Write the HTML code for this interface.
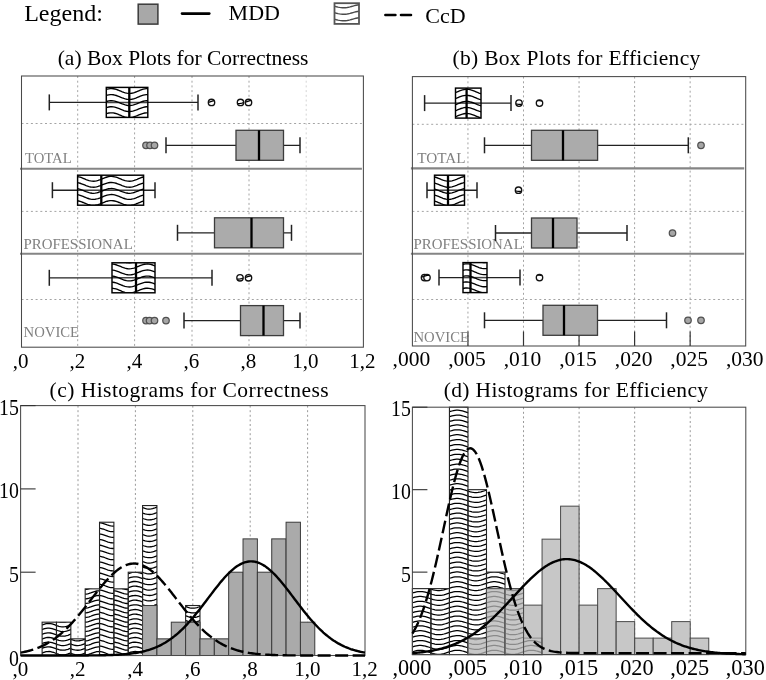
<!DOCTYPE html>
<html><head><meta charset="utf-8"><title>Figure</title>
<style>
html,body{margin:0;padding:0;background:#fff;}
body{width:766px;height:680px;overflow:hidden;}
svg{display:block;font-family:"Liberation Serif",serif;will-change:transform;}
</style></head><body>
<svg width="766" height="680" viewBox="0 0 766 680">
<rect width="766" height="680" fill="#fff"/>
<defs><clipPath id="c1"><rect x="334.5" y="3.2" width="24.5" height="20.7"/></clipPath><clipPath id="c2"><rect x="106.3" y="87.4" width="41.5" height="30"/></clipPath><clipPath id="c3"><circle cx="211.5" cy="102.4" r="3.2"/></clipPath><clipPath id="c4"><circle cx="240.5" cy="102.4" r="3.2"/></clipPath><clipPath id="c5"><circle cx="248.5" cy="102.4" r="3.2"/></clipPath><clipPath id="c6"><rect x="77.6" y="175.2" width="66" height="30"/></clipPath><clipPath id="c7"><rect x="112" y="262.8" width="43" height="30"/></clipPath><clipPath id="c8"><circle cx="240" cy="277.8" r="3.2"/></clipPath><clipPath id="c9"><circle cx="248.5" cy="277.8" r="3.2"/></clipPath><clipPath id="c10"><rect x="455.5" y="88.1" width="25.5" height="30"/></clipPath><clipPath id="c11"><circle cx="519" cy="103.1" r="3.2"/></clipPath><clipPath id="c12"><circle cx="539.5" cy="103.1" r="3.2"/></clipPath><clipPath id="c13"><rect x="434.5" y="175.2" width="30" height="30"/></clipPath><clipPath id="c14"><circle cx="518.5" cy="190.2" r="3.2"/></clipPath><clipPath id="c15"><rect x="463" y="262.6" width="24" height="30"/></clipPath><clipPath id="c16"><circle cx="424.5" cy="277.6" r="3.2"/></clipPath><clipPath id="c17"><circle cx="427" cy="277.6" r="3.2"/></clipPath><clipPath id="c18"><circle cx="539.5" cy="277.6" r="3.2"/></clipPath><clipPath id="c19"><rect x="42.12" y="622.18" width="14.35" height="33.32"/></clipPath><clipPath id="c20"><rect x="56.48" y="622.18" width="14.35" height="33.32"/></clipPath><clipPath id="c21"><rect x="70.82" y="638.84" width="14.35" height="16.66"/></clipPath><clipPath id="c22"><rect x="85.18" y="588.86" width="14.35" height="66.64"/></clipPath><clipPath id="c23"><rect x="99.53" y="522.22" width="14.35" height="133.28"/></clipPath><clipPath id="c24"><rect x="113.88" y="588.86" width="14.35" height="66.64"/></clipPath><clipPath id="c25"><rect x="128.22" y="572.2" width="14.35" height="83.3"/></clipPath><clipPath id="c26"><rect x="142.57" y="505.56" width="14.35" height="149.94"/></clipPath><clipPath id="c27"><rect x="185.62" y="605.52" width="14.35" height="49.98"/></clipPath><clipPath id="c28"><rect x="412.4" y="588.63" width="18.52" height="65.97"/></clipPath><clipPath id="c29"><rect x="430.92" y="588.63" width="18.52" height="65.97"/></clipPath><clipPath id="c30"><rect x="449.44" y="407.2" width="18.52" height="247.4"/></clipPath><clipPath id="c31"><rect x="467.97" y="489.67" width="18.52" height="164.93"/></clipPath><clipPath id="c32"><rect x="486.49" y="572.13" width="18.52" height="82.47"/></clipPath><clipPath id="c33"><rect x="505.01" y="588.63" width="18.52" height="65.97"/></clipPath><clipPath id="c34"><rect x="523.53" y="638.11" width="18.52" height="16.49"/></clipPath></defs>
<text x="24.2" y="21.3" font-size="24" text-anchor="start" fill="#000">Legend:</text>
<rect x="138.2" y="4.2" width="19.7" height="19.9" fill="#a8a8a8" stroke="#3a3a3a" stroke-width="1.5"/>
<line x1="182" y1="13.6" x2="209.3" y2="13.6" stroke="#000" stroke-width="2.6" stroke-linecap="round"/>
<text x="228.6" y="19.8" font-size="22" text-anchor="start" fill="#000">MDD</text>
<rect x="334.5" y="3.2" width="24.5" height="20.7" fill="#fff"/>
<g clip-path="url(#c1)"><path d="M332 -0.98L333.5 -0.58L335 -0.16L336.5 0.25L338 0.62L339.5 0.93L341 1.15L342.5 1.28L344 1.29L345.5 1.2L347 1.01L348.5 0.73L350 0.38L351.5 -0.02L353 -0.44L354.5 -0.85L356 -1.22L357.5 -1.53L359 -1.75L360.5 -1.88L362 -1.89L363.5 -1.8M332 5.52L333.5 5.92L335 6.34L336.5 6.75L338 7.12L339.5 7.43L341 7.65L342.5 7.78L344 7.79L345.5 7.7L347 7.51L348.5 7.23L350 6.88L351.5 6.48L353 6.06L354.5 5.65L356 5.28L357.5 4.97L359 4.75L360.5 4.62L362 4.61L363.5 4.7M332 12.02L333.5 12.42L335 12.84L336.5 13.25L338 13.62L339.5 13.93L341 14.15L342.5 14.28L344 14.29L345.5 14.2L347 14.01L348.5 13.73L350 13.38L351.5 12.98L353 12.56L354.5 12.15L356 11.78L357.5 11.47L359 11.25L360.5 11.12L362 11.11L363.5 11.2M332 18.52L333.5 18.92L335 19.34L336.5 19.75L338 20.12L339.5 20.43L341 20.65L342.5 20.78L344 20.79L345.5 20.7L347 20.51L348.5 20.23L350 19.88L351.5 19.48L353 19.06L354.5 18.65L356 18.28L357.5 17.97L359 17.75L360.5 17.62L362 17.61L363.5 17.7M332 25.02L333.5 25.42L335 25.84L336.5 26.25L338 26.62L339.5 26.93L341 27.15L342.5 27.28L344 27.29L345.5 27.2L347 27.01L348.5 26.73L350 26.38L351.5 25.98L353 25.56L354.5 25.15L356 24.78L357.5 24.47L359 24.25L360.5 24.12L362 24.11L363.5 24.2M332 31.52L333.5 31.92L335 32.34L336.5 32.75L338 33.12L339.5 33.43L341 33.65L342.5 33.78L344 33.79L345.5 33.7L347 33.51L348.5 33.23L350 32.88L351.5 32.48L353 32.06L354.5 31.65L356 31.28L357.5 30.97L359 30.75L360.5 30.62L362 30.61L363.5 30.7" fill="none" stroke="#4a4a4a" stroke-width="1.4"/></g>
<rect x="334.5" y="3.2" width="24.5" height="20.7" fill="none" stroke="#555" stroke-width="1.8"/>
<line x1="385.4" y1="15" x2="411" y2="15" stroke="#000" stroke-width="2.6" stroke-dasharray="10 5.6" stroke-linecap="round"/>
<text x="425.3" y="23.3" font-size="22" text-anchor="start" fill="#000">CcD</text>
<text x="57.7" y="65.3" font-size="21.5" text-anchor="start" fill="#000">(a) Box Plots for Correctness</text>
<line x1="77.7" y1="76" x2="77.7" y2="347.2" stroke="#a4a4a4" stroke-width="1" stroke-dasharray="2 2.7"/>
<line x1="134.6" y1="76" x2="134.6" y2="347.2" stroke="#a4a4a4" stroke-width="1" stroke-dasharray="2 2.7"/>
<line x1="192" y1="76" x2="192" y2="347.2" stroke="#a4a4a4" stroke-width="1" stroke-dasharray="2 2.7"/>
<line x1="249" y1="76" x2="249" y2="347.2" stroke="#a4a4a4" stroke-width="1" stroke-dasharray="2 2.7"/>
<line x1="306.2" y1="76" x2="306.2" y2="347.2" stroke="#d4d4d4" stroke-width="1" stroke-dasharray="2 2.7"/>
<line x1="21.5" y1="123.5" x2="363.4" y2="123.5" stroke="#a4a4a4" stroke-width="1" stroke-dasharray="2 2.7"/>
<line x1="21.5" y1="211.4" x2="363.4" y2="211.4" stroke="#a4a4a4" stroke-width="1" stroke-dasharray="2 2.7"/>
<line x1="21.5" y1="299.5" x2="363.4" y2="299.5" stroke="#a4a4a4" stroke-width="1" stroke-dasharray="2 2.7"/>
<text x="25" y="162.7" font-size="14.7" text-anchor="start" fill="#808080">TOTAL</text>
<text x="23.5" y="249" font-size="14.9" text-anchor="start" fill="#808080">PROFESSIONAL</text>
<text x="23.6" y="336.5" font-size="14.7" text-anchor="start" fill="#808080">NOVICE</text>
<line x1="20" y1="168.8" x2="361.9" y2="168.8" stroke="#858585" stroke-width="2.1"/>
<line x1="20" y1="253.7" x2="361.9" y2="253.7" stroke="#858585" stroke-width="2.1"/>
<rect x="21.5" y="76" width="341.9" height="271.2" fill="none" stroke="#4a4a4a" stroke-width="1.05"/>
<line x1="49.3" y1="102.4" x2="198" y2="102.4" stroke="#222" stroke-width="1.35"/>
<line x1="49.3" y1="94.4" x2="49.3" y2="110.4" stroke="#222" stroke-width="1.5"/>
<line x1="198" y1="94.4" x2="198" y2="110.4" stroke="#222" stroke-width="1.5"/>
<rect x="106.3" y="87.4" width="41.5" height="30" fill="#fff"/>
<line x1="106.3" y1="102.4" x2="147.8" y2="102.4" stroke="#444" stroke-width="1.5"/>
<g clip-path="url(#c2)"><path d="M104.3 78.08L105.8 77.52L107.3 77.06L108.8 76.72L110.3 76.54L111.8 76.51L113.3 76.64L114.8 76.93L116.3 77.36L117.8 77.89L119.3 78.48L120.8 79.11L122.3 79.72L123.8 80.28L125.3 80.74L126.8 81.08L128.3 81.26L129.8 81.29L131.3 81.16L132.8 80.87L134.3 80.44L135.8 79.91L137.3 79.32L138.8 78.69L140.3 78.08L141.8 77.52L143.3 77.06L144.8 76.72L146.3 76.54L147.8 76.51L149.3 76.64L150.8 76.93M104.3 84.13L105.8 83.57L107.3 83.11L108.8 82.77L110.3 82.59L111.8 82.56L113.3 82.69L114.8 82.98L116.3 83.41L117.8 83.94L119.3 84.53L120.8 85.16L122.3 85.77L123.8 86.33L125.3 86.79L126.8 87.13L128.3 87.31L129.8 87.34L131.3 87.21L132.8 86.92L134.3 86.49L135.8 85.96L137.3 85.37L138.8 84.74L140.3 84.13L141.8 83.57L143.3 83.11L144.8 82.77L146.3 82.59L147.8 82.56L149.3 82.69L150.8 82.98M104.3 90.18L105.8 89.62L107.3 89.16L108.8 88.82L110.3 88.64L111.8 88.61L113.3 88.74L114.8 89.03L116.3 89.46L117.8 89.99L119.3 90.58L120.8 91.21L122.3 91.82L123.8 92.38L125.3 92.84L126.8 93.18L128.3 93.36L129.8 93.39L131.3 93.26L132.8 92.97L134.3 92.54L135.8 92.01L137.3 91.42L138.8 90.79L140.3 90.18L141.8 89.62L143.3 89.16L144.8 88.82L146.3 88.64L147.8 88.61L149.3 88.74L150.8 89.03M104.3 96.23L105.8 95.67L107.3 95.21L108.8 94.87L110.3 94.69L111.8 94.66L113.3 94.79L114.8 95.08L116.3 95.51L117.8 96.04L119.3 96.63L120.8 97.26L122.3 97.87L123.8 98.43L125.3 98.89L126.8 99.23L128.3 99.41L129.8 99.44L131.3 99.31L132.8 99.02L134.3 98.59L135.8 98.06L137.3 97.47L138.8 96.84L140.3 96.23L141.8 95.67L143.3 95.21L144.8 94.87L146.3 94.69L147.8 94.66L149.3 94.79L150.8 95.08M104.3 102.28L105.8 101.72L107.3 101.26L108.8 100.92L110.3 100.74L111.8 100.71L113.3 100.84L114.8 101.13L116.3 101.56L117.8 102.09L119.3 102.68L120.8 103.31L122.3 103.92L123.8 104.48L125.3 104.94L126.8 105.28L128.3 105.46L129.8 105.49L131.3 105.36L132.8 105.07L134.3 104.64L135.8 104.11L137.3 103.52L138.8 102.89L140.3 102.28L141.8 101.72L143.3 101.26L144.8 100.92L146.3 100.74L147.8 100.71L149.3 100.84L150.8 101.13M104.3 108.33L105.8 107.77L107.3 107.31L108.8 106.97L110.3 106.79L111.8 106.76L113.3 106.89L114.8 107.18L116.3 107.61L117.8 108.14L119.3 108.73L120.8 109.36L122.3 109.97L123.8 110.53L125.3 110.99L126.8 111.33L128.3 111.51L129.8 111.54L131.3 111.41L132.8 111.12L134.3 110.69L135.8 110.16L137.3 109.57L138.8 108.94L140.3 108.33L141.8 107.77L143.3 107.31L144.8 106.97L146.3 106.79L147.8 106.76L149.3 106.89L150.8 107.18M104.3 114.38L105.8 113.82L107.3 113.36L108.8 113.02L110.3 112.84L111.8 112.81L113.3 112.94L114.8 113.23L116.3 113.66L117.8 114.19L119.3 114.78L120.8 115.41L122.3 116.02L123.8 116.58L125.3 117.04L126.8 117.38L128.3 117.56L129.8 117.59L131.3 117.46L132.8 117.17L134.3 116.74L135.8 116.21L137.3 115.62L138.8 114.99L140.3 114.38L141.8 113.82L143.3 113.36L144.8 113.02L146.3 112.84L147.8 112.81L149.3 112.94L150.8 113.23M104.3 120.43L105.8 119.87L107.3 119.41L108.8 119.07L110.3 118.89L111.8 118.86L113.3 118.99L114.8 119.28L116.3 119.71L117.8 120.24L119.3 120.83L120.8 121.46L122.3 122.07L123.8 122.63L125.3 123.09L126.8 123.43L128.3 123.61L129.8 123.64L131.3 123.51L132.8 123.22L134.3 122.79L135.8 122.26L137.3 121.67L138.8 121.04L140.3 120.43L141.8 119.87L143.3 119.41L144.8 119.07L146.3 118.89L147.8 118.86L149.3 118.99L150.8 119.28M104.3 126.48L105.8 125.92L107.3 125.46L108.8 125.12L110.3 124.94L111.8 124.91L113.3 125.04L114.8 125.33L116.3 125.76L117.8 126.29L119.3 126.88L120.8 127.51L122.3 128.12L123.8 128.68L125.3 129.14L126.8 129.48L128.3 129.66L129.8 129.69L131.3 129.56L132.8 129.27L134.3 128.84L135.8 128.31L137.3 127.72L138.8 127.09L140.3 126.48L141.8 125.92L143.3 125.46L144.8 125.12L146.3 124.94L147.8 124.91L149.3 125.04L150.8 125.33" fill="none" stroke="#000" stroke-width="1.35"/></g>
<rect x="106.3" y="87.4" width="41.5" height="30" fill="none" stroke="#000" stroke-width="1.45"/>
<line x1="129.3" y1="87.4" x2="129.3" y2="117.4" stroke="#000" stroke-width="2.3"/>
<circle cx="211.5" cy="102.4" r="3.2" fill="#fff"/>
<g clip-path="url(#c3)"><path d="M205.5 91.11L207 90.73L208.5 90.29L210 89.8L211.5 89.3L213 88.84L214.5 88.43L216 88.11L217.5 87.89L219 87.8M205.5 97.16L207 96.78L208.5 96.34L210 95.85L211.5 95.35L213 94.89L214.5 94.48L216 94.16L217.5 93.94L219 93.85M205.5 103.21L207 102.83L208.5 102.39L210 101.9L211.5 101.4L213 100.94L214.5 100.53L216 100.21L217.5 99.99L219 99.9M205.5 109.26L207 108.88L208.5 108.44L210 107.95L211.5 107.45L213 106.99L214.5 106.58L216 106.26L217.5 106.04L219 105.95M205.5 115.31L207 114.93L208.5 114.49L210 114L211.5 113.5L213 113.04L214.5 112.63L216 112.31L217.5 112.09L219 112" fill="none" stroke="#000" stroke-width="1.3"/></g>
<circle cx="211.5" cy="102.4" r="3.2" fill="none" stroke="#111" stroke-width="1.35"/>
<circle cx="240.5" cy="102.4" r="3.2" fill="#fff"/>
<g clip-path="url(#c4)"><path d="M234.5 91.38L236 91.55L237.5 91.6L239 91.52L240.5 91.31L242 91L243.5 90.59L245 90.13L246.5 89.63L248 89.14M234.5 97.43L236 97.6L237.5 97.65L239 97.57L240.5 97.36L242 97.05L243.5 96.64L245 96.18L246.5 95.68L248 95.19M234.5 103.48L236 103.65L237.5 103.7L239 103.62L240.5 103.41L242 103.1L243.5 102.69L245 102.23L246.5 101.73L248 101.24M234.5 109.53L236 109.7L237.5 109.75L239 109.67L240.5 109.46L242 109.15L243.5 108.74L245 108.28L246.5 107.78L248 107.29M234.5 115.58L236 115.75L237.5 115.8L239 115.72L240.5 115.51L242 115.2L243.5 114.79L245 114.33L246.5 113.83L248 113.34" fill="none" stroke="#000" stroke-width="1.3"/></g>
<circle cx="240.5" cy="102.4" r="3.2" fill="none" stroke="#111" stroke-width="1.35"/>
<circle cx="248.5" cy="102.4" r="3.2" fill="#fff"/>
<g clip-path="url(#c5)"><path d="M242.5 90.87L244 90.44L245.5 89.96L247 89.47L248.5 88.99L250 88.56L251.5 88.2L253 87.95L254.5 87.82L256 87.81M242.5 96.92L244 96.49L245.5 96.01L247 95.52L248.5 95.04L250 94.61L251.5 94.25L253 94L254.5 93.87L256 93.86M242.5 102.97L244 102.54L245.5 102.06L247 101.57L248.5 101.09L250 100.66L251.5 100.3L253 100.05L254.5 99.92L256 99.91M242.5 109.02L244 108.59L245.5 108.11L247 107.62L248.5 107.14L250 106.71L251.5 106.35L253 106.1L254.5 105.97L256 105.96M242.5 115.07L244 114.64L245.5 114.16L247 113.67L248.5 113.19L250 112.76L251.5 112.4L253 112.15L254.5 112.02L256 112.01" fill="none" stroke="#000" stroke-width="1.3"/></g>
<circle cx="248.5" cy="102.4" r="3.2" fill="none" stroke="#111" stroke-width="1.35"/>
<line x1="166" y1="145.3" x2="300" y2="145.3" stroke="#222" stroke-width="1.35"/>
<line x1="166" y1="137.3" x2="166" y2="153.3" stroke="#222" stroke-width="1.5"/>
<line x1="300" y1="137.3" x2="300" y2="153.3" stroke="#222" stroke-width="1.5"/>
<rect x="236" y="130.3" width="47.5" height="30" fill="#ababab" stroke="#3c3c3c" stroke-width="1.3"/>
<line x1="259" y1="130.3" x2="259" y2="160.3" stroke="#000" stroke-width="2.3"/>
<circle cx="146" cy="145.3" r="3.25" fill="#a6a6a6" stroke="#505050" stroke-width="1.25"/>
<circle cx="150" cy="145.3" r="3.25" fill="#a6a6a6" stroke="#505050" stroke-width="1.25"/>
<circle cx="154.5" cy="145.3" r="3.25" fill="#a6a6a6" stroke="#505050" stroke-width="1.25"/>
<line x1="52.4" y1="190.2" x2="155" y2="190.2" stroke="#222" stroke-width="1.35"/>
<line x1="52.4" y1="182.2" x2="52.4" y2="198.2" stroke="#222" stroke-width="1.5"/>
<line x1="155" y1="182.2" x2="155" y2="198.2" stroke="#222" stroke-width="1.5"/>
<rect x="77.6" y="175.2" width="66" height="30" fill="#fff"/>
<line x1="77.6" y1="190.2" x2="143.6" y2="190.2" stroke="#444" stroke-width="1.5"/>
<g clip-path="url(#c6)"><path d="M75.6 164.3L77.1 164.42L78.6 164.69L80.1 165.09L81.6 165.61L83.1 166.2L84.6 166.83L86.1 167.44L87.6 168.01L89.1 168.48L90.6 168.84L92.1 169.05L93.6 169.1L95.1 168.98L96.6 168.71L98.1 168.31L99.6 167.79L101.1 167.2L102.6 166.57L104.1 165.96L105.6 165.39L107.1 164.92L108.6 164.56L110.1 164.35L111.6 164.3L113.1 164.42L114.6 164.69L116.1 165.09L117.6 165.61L119.1 166.2L120.6 166.83L122.1 167.44L123.6 168.01L125.1 168.48L126.6 168.84L128.1 169.05L129.6 169.1L131.1 168.98L132.6 168.71L134.1 168.31L135.6 167.79L137.1 167.2L138.6 166.57L140.1 165.96L141.6 165.39L143.1 164.92L144.6 164.56L146.1 164.35M75.6 170.35L77.1 170.47L78.6 170.74L80.1 171.14L81.6 171.66L83.1 172.25L84.6 172.88L86.1 173.49L87.6 174.06L89.1 174.53L90.6 174.89L92.1 175.1L93.6 175.15L95.1 175.03L96.6 174.76L98.1 174.36L99.6 173.84L101.1 173.25L102.6 172.62L104.1 172.01L105.6 171.44L107.1 170.97L108.6 170.61L110.1 170.4L111.6 170.35L113.1 170.47L114.6 170.74L116.1 171.14L117.6 171.66L119.1 172.25L120.6 172.88L122.1 173.49L123.6 174.06L125.1 174.53L126.6 174.89L128.1 175.1L129.6 175.15L131.1 175.03L132.6 174.76L134.1 174.36L135.6 173.84L137.1 173.25L138.6 172.62L140.1 172.01L141.6 171.44L143.1 170.97L144.6 170.61L146.1 170.4M75.6 176.4L77.1 176.52L78.6 176.79L80.1 177.19L81.6 177.71L83.1 178.3L84.6 178.93L86.1 179.54L87.6 180.11L89.1 180.58L90.6 180.94L92.1 181.15L93.6 181.2L95.1 181.08L96.6 180.81L98.1 180.41L99.6 179.89L101.1 179.3L102.6 178.67L104.1 178.06L105.6 177.49L107.1 177.02L108.6 176.66L110.1 176.45L111.6 176.4L113.1 176.52L114.6 176.79L116.1 177.19L117.6 177.71L119.1 178.3L120.6 178.93L122.1 179.54L123.6 180.11L125.1 180.58L126.6 180.94L128.1 181.15L129.6 181.2L131.1 181.08L132.6 180.81L134.1 180.41L135.6 179.89L137.1 179.3L138.6 178.67L140.1 178.06L141.6 177.49L143.1 177.02L144.6 176.66L146.1 176.45M75.6 182.45L77.1 182.57L78.6 182.84L80.1 183.24L81.6 183.76L83.1 184.35L84.6 184.98L86.1 185.59L87.6 186.16L89.1 186.63L90.6 186.99L92.1 187.2L93.6 187.25L95.1 187.13L96.6 186.86L98.1 186.46L99.6 185.94L101.1 185.35L102.6 184.72L104.1 184.11L105.6 183.54L107.1 183.07L108.6 182.71L110.1 182.5L111.6 182.45L113.1 182.57L114.6 182.84L116.1 183.24L117.6 183.76L119.1 184.35L120.6 184.98L122.1 185.59L123.6 186.16L125.1 186.63L126.6 186.99L128.1 187.2L129.6 187.25L131.1 187.13L132.6 186.86L134.1 186.46L135.6 185.94L137.1 185.35L138.6 184.72L140.1 184.11L141.6 183.54L143.1 183.07L144.6 182.71L146.1 182.5M75.6 188.5L77.1 188.62L78.6 188.89L80.1 189.29L81.6 189.81L83.1 190.4L84.6 191.03L86.1 191.64L87.6 192.21L89.1 192.68L90.6 193.04L92.1 193.25L93.6 193.3L95.1 193.18L96.6 192.91L98.1 192.51L99.6 191.99L101.1 191.4L102.6 190.77L104.1 190.16L105.6 189.59L107.1 189.12L108.6 188.76L110.1 188.55L111.6 188.5L113.1 188.62L114.6 188.89L116.1 189.29L117.6 189.81L119.1 190.4L120.6 191.03L122.1 191.64L123.6 192.21L125.1 192.68L126.6 193.04L128.1 193.25L129.6 193.3L131.1 193.18L132.6 192.91L134.1 192.51L135.6 191.99L137.1 191.4L138.6 190.77L140.1 190.16L141.6 189.59L143.1 189.12L144.6 188.76L146.1 188.55M75.6 194.55L77.1 194.67L78.6 194.94L80.1 195.34L81.6 195.86L83.1 196.45L84.6 197.08L86.1 197.69L87.6 198.26L89.1 198.73L90.6 199.09L92.1 199.3L93.6 199.35L95.1 199.23L96.6 198.96L98.1 198.56L99.6 198.04L101.1 197.45L102.6 196.82L104.1 196.21L105.6 195.64L107.1 195.17L108.6 194.81L110.1 194.6L111.6 194.55L113.1 194.67L114.6 194.94L116.1 195.34L117.6 195.86L119.1 196.45L120.6 197.08L122.1 197.69L123.6 198.26L125.1 198.73L126.6 199.09L128.1 199.3L129.6 199.35L131.1 199.23L132.6 198.96L134.1 198.56L135.6 198.04L137.1 197.45L138.6 196.82L140.1 196.21L141.6 195.64L143.1 195.17L144.6 194.81L146.1 194.6M75.6 200.6L77.1 200.72L78.6 200.99L80.1 201.39L81.6 201.91L83.1 202.5L84.6 203.13L86.1 203.74L87.6 204.31L89.1 204.78L90.6 205.14L92.1 205.35L93.6 205.4L95.1 205.28L96.6 205.01L98.1 204.61L99.6 204.09L101.1 203.5L102.6 202.87L104.1 202.26L105.6 201.69L107.1 201.22L108.6 200.86L110.1 200.65L111.6 200.6L113.1 200.72L114.6 200.99L116.1 201.39L117.6 201.91L119.1 202.5L120.6 203.13L122.1 203.74L123.6 204.31L125.1 204.78L126.6 205.14L128.1 205.35L129.6 205.4L131.1 205.28L132.6 205.01L134.1 204.61L135.6 204.09L137.1 203.5L138.6 202.87L140.1 202.26L141.6 201.69L143.1 201.22L144.6 200.86L146.1 200.65M75.6 206.65L77.1 206.77L78.6 207.04L80.1 207.44L81.6 207.96L83.1 208.55L84.6 209.18L86.1 209.79L87.6 210.36L89.1 210.83L90.6 211.19L92.1 211.4L93.6 211.45L95.1 211.33L96.6 211.06L98.1 210.66L99.6 210.14L101.1 209.55L102.6 208.92L104.1 208.31L105.6 207.74L107.1 207.27L108.6 206.91L110.1 206.7L111.6 206.65L113.1 206.77L114.6 207.04L116.1 207.44L117.6 207.96L119.1 208.55L120.6 209.18L122.1 209.79L123.6 210.36L125.1 210.83L126.6 211.19L128.1 211.4L129.6 211.45L131.1 211.33L132.6 211.06L134.1 210.66L135.6 210.14L137.1 209.55L138.6 208.92L140.1 208.31L141.6 207.74L143.1 207.27L144.6 206.91L146.1 206.7M75.6 212.7L77.1 212.82L78.6 213.09L80.1 213.49L81.6 214.01L83.1 214.6L84.6 215.23L86.1 215.84L87.6 216.41L89.1 216.88L90.6 217.24L92.1 217.45L93.6 217.5L95.1 217.38L96.6 217.11L98.1 216.71L99.6 216.19L101.1 215.6L102.6 214.97L104.1 214.36L105.6 213.79L107.1 213.32L108.6 212.96L110.1 212.75L111.6 212.7L113.1 212.82L114.6 213.09L116.1 213.49L117.6 214.01L119.1 214.6L120.6 215.23L122.1 215.84L123.6 216.41L125.1 216.88L126.6 217.24L128.1 217.45L129.6 217.5L131.1 217.38L132.6 217.11L134.1 216.71L135.6 216.19L137.1 215.6L138.6 214.97L140.1 214.36L141.6 213.79L143.1 213.32L144.6 212.96L146.1 212.75" fill="none" stroke="#000" stroke-width="1.35"/></g>
<rect x="77.6" y="175.2" width="66" height="30" fill="none" stroke="#000" stroke-width="1.45"/>
<line x1="101.3" y1="175.2" x2="101.3" y2="205.2" stroke="#000" stroke-width="2.3"/>
<line x1="177.5" y1="232.8" x2="291.5" y2="232.8" stroke="#222" stroke-width="1.35"/>
<line x1="177.5" y1="224.8" x2="177.5" y2="240.8" stroke="#222" stroke-width="1.5"/>
<line x1="291.5" y1="224.8" x2="291.5" y2="240.8" stroke="#222" stroke-width="1.5"/>
<rect x="214.5" y="217.8" width="69" height="30" fill="#ababab" stroke="#3c3c3c" stroke-width="1.3"/>
<line x1="251.5" y1="217.8" x2="251.5" y2="247.8" stroke="#000" stroke-width="2.3"/>
<line x1="49.3" y1="277.8" x2="212" y2="277.8" stroke="#222" stroke-width="1.35"/>
<line x1="49.3" y1="269.8" x2="49.3" y2="285.8" stroke="#222" stroke-width="1.5"/>
<line x1="212" y1="269.8" x2="212" y2="285.8" stroke="#222" stroke-width="1.5"/>
<rect x="112" y="262.8" width="43" height="30" fill="#fff"/>
<line x1="112" y1="277.8" x2="155" y2="277.8" stroke="#444" stroke-width="1.5"/>
<g clip-path="url(#c7)"><path d="M110 251.96L111.5 251.9L113 252L114.5 252.26L116 252.66L117.5 253.17L119 253.76L120.5 254.38L122 255L123.5 255.57L125 256.06L126.5 256.42L128 256.64L129.5 256.7L131 256.6L132.5 256.34L134 255.94L135.5 255.43L137 254.84L138.5 254.22L140 253.6L141.5 253.03L143 252.54L144.5 252.18L146 251.96L147.5 251.9L149 252L150.5 252.26L152 252.66L153.5 253.17L155 253.76L156.5 254.38L158 255M110 258.01L111.5 257.95L113 258.05L114.5 258.31L116 258.71L117.5 259.22L119 259.81L120.5 260.43L122 261.05L123.5 261.62L125 262.11L126.5 262.47L128 262.69L129.5 262.75L131 262.65L132.5 262.39L134 261.99L135.5 261.48L137 260.89L138.5 260.27L140 259.65L141.5 259.08L143 258.59L144.5 258.23L146 258.01L147.5 257.95L149 258.05L150.5 258.31L152 258.71L153.5 259.22L155 259.81L156.5 260.43L158 261.05M110 264.06L111.5 264L113 264.1L114.5 264.36L116 264.76L117.5 265.27L119 265.86L120.5 266.48L122 267.1L123.5 267.67L125 268.16L126.5 268.52L128 268.74L129.5 268.8L131 268.7L132.5 268.44L134 268.04L135.5 267.53L137 266.94L138.5 266.32L140 265.7L141.5 265.13L143 264.64L144.5 264.28L146 264.06L147.5 264L149 264.1L150.5 264.36L152 264.76L153.5 265.27L155 265.86L156.5 266.48L158 267.1M110 270.11L111.5 270.05L113 270.15L114.5 270.41L116 270.81L117.5 271.32L119 271.91L120.5 272.53L122 273.15L123.5 273.72L125 274.21L126.5 274.57L128 274.79L129.5 274.85L131 274.75L132.5 274.49L134 274.09L135.5 273.58L137 272.99L138.5 272.37L140 271.75L141.5 271.18L143 270.69L144.5 270.33L146 270.11L147.5 270.05L149 270.15L150.5 270.41L152 270.81L153.5 271.32L155 271.91L156.5 272.53L158 273.15M110 276.16L111.5 276.1L113 276.2L114.5 276.46L116 276.86L117.5 277.37L119 277.96L120.5 278.58L122 279.2L123.5 279.77L125 280.26L126.5 280.62L128 280.84L129.5 280.9L131 280.8L132.5 280.54L134 280.14L135.5 279.63L137 279.04L138.5 278.42L140 277.8L141.5 277.23L143 276.74L144.5 276.38L146 276.16L147.5 276.1L149 276.2L150.5 276.46L152 276.86L153.5 277.37L155 277.96L156.5 278.58L158 279.2M110 282.21L111.5 282.15L113 282.25L114.5 282.51L116 282.91L117.5 283.42L119 284.01L120.5 284.63L122 285.25L123.5 285.82L125 286.31L126.5 286.67L128 286.89L129.5 286.95L131 286.85L132.5 286.59L134 286.19L135.5 285.68L137 285.09L138.5 284.47L140 283.85L141.5 283.28L143 282.79L144.5 282.43L146 282.21L147.5 282.15L149 282.25L150.5 282.51L152 282.91L153.5 283.42L155 284.01L156.5 284.63L158 285.25M110 288.26L111.5 288.2L113 288.3L114.5 288.56L116 288.96L117.5 289.47L119 290.06L120.5 290.68L122 291.3L123.5 291.87L125 292.36L126.5 292.72L128 292.94L129.5 293L131 292.9L132.5 292.64L134 292.24L135.5 291.73L137 291.14L138.5 290.52L140 289.9L141.5 289.33L143 288.84L144.5 288.48L146 288.26L147.5 288.2L149 288.3L150.5 288.56L152 288.96L153.5 289.47L155 290.06L156.5 290.68L158 291.3M110 294.31L111.5 294.25L113 294.35L114.5 294.61L116 295.01L117.5 295.52L119 296.11L120.5 296.73L122 297.35L123.5 297.92L125 298.41L126.5 298.77L128 298.99L129.5 299.05L131 298.95L132.5 298.69L134 298.29L135.5 297.78L137 297.19L138.5 296.57L140 295.95L141.5 295.38L143 294.89L144.5 294.53L146 294.31L147.5 294.25L149 294.35L150.5 294.61L152 295.01L153.5 295.52L155 296.11L156.5 296.73L158 297.35M110 300.36L111.5 300.3L113 300.4L114.5 300.66L116 301.06L117.5 301.57L119 302.16L120.5 302.78L122 303.4L123.5 303.97L125 304.46L126.5 304.82L128 305.04L129.5 305.1L131 305L132.5 304.74L134 304.34L135.5 303.83L137 303.24L138.5 302.62L140 302L141.5 301.43L143 300.94L144.5 300.58L146 300.36L147.5 300.3L149 300.4L150.5 300.66L152 301.06L153.5 301.57L155 302.16L156.5 302.78L158 303.4" fill="none" stroke="#000" stroke-width="1.35"/></g>
<rect x="112" y="262.8" width="43" height="30" fill="none" stroke="#000" stroke-width="1.45"/>
<line x1="136" y1="262.8" x2="136" y2="292.8" stroke="#000" stroke-width="2.3"/>
<circle cx="240" cy="277.8" r="3.2" fill="#fff"/>
<g clip-path="url(#c8)"><path d="M234 266.69L235.5 266.91L237 267L238.5 266.96L240 266.79L241.5 266.51L243 266.13L244.5 265.69L246 265.2L247.5 264.7M234 272.74L235.5 272.96L237 273.05L238.5 273.01L240 272.84L241.5 272.56L243 272.18L244.5 271.74L246 271.25L247.5 270.75M234 278.79L235.5 279.01L237 279.1L238.5 279.06L240 278.89L241.5 278.61L243 278.23L244.5 277.79L246 277.3L247.5 276.8M234 284.84L235.5 285.06L237 285.15L238.5 285.11L240 284.94L241.5 284.66L243 284.28L244.5 283.84L246 283.35L247.5 282.85M234 290.89L235.5 291.11L237 291.2L238.5 291.16L240 290.99L241.5 290.71L243 290.33L244.5 289.89L246 289.4L247.5 288.9" fill="none" stroke="#000" stroke-width="1.3"/></g>
<circle cx="240" cy="277.8" r="3.2" fill="none" stroke="#111" stroke-width="1.35"/>
<circle cx="248.5" cy="277.8" r="3.2" fill="#fff"/>
<g clip-path="url(#c9)"><path d="M242.5 266.27L244 265.84L245.5 265.36L247 264.87L248.5 264.39L250 263.96L251.5 263.6L253 263.35L254.5 263.22L256 263.21M242.5 272.32L244 271.89L245.5 271.41L247 270.92L248.5 270.44L250 270.01L251.5 269.65L253 269.4L254.5 269.27L256 269.26M242.5 278.37L244 277.94L245.5 277.46L247 276.97L248.5 276.49L250 276.06L251.5 275.7L253 275.45L254.5 275.32L256 275.31M242.5 284.42L244 283.99L245.5 283.51L247 283.02L248.5 282.54L250 282.11L251.5 281.75L253 281.5L254.5 281.37L256 281.36M242.5 290.47L244 290.04L245.5 289.56L247 289.07L248.5 288.59L250 288.16L251.5 287.8L253 287.55L254.5 287.42L256 287.41" fill="none" stroke="#000" stroke-width="1.3"/></g>
<circle cx="248.5" cy="277.8" r="3.2" fill="none" stroke="#111" stroke-width="1.35"/>
<line x1="184" y1="320.6" x2="300" y2="320.6" stroke="#222" stroke-width="1.35"/>
<line x1="184" y1="312.6" x2="184" y2="328.6" stroke="#222" stroke-width="1.5"/>
<line x1="300" y1="312.6" x2="300" y2="328.6" stroke="#222" stroke-width="1.5"/>
<rect x="240.5" y="305.6" width="43" height="30" fill="#ababab" stroke="#3c3c3c" stroke-width="1.3"/>
<line x1="263.5" y1="305.6" x2="263.5" y2="335.6" stroke="#000" stroke-width="2.3"/>
<circle cx="146" cy="320.6" r="3.25" fill="#a6a6a6" stroke="#505050" stroke-width="1.25"/>
<circle cx="149.5" cy="320.6" r="3.25" fill="#a6a6a6" stroke="#505050" stroke-width="1.25"/>
<circle cx="154.5" cy="320.6" r="3.25" fill="#a6a6a6" stroke="#505050" stroke-width="1.25"/>
<circle cx="166" cy="320.6" r="3.25" fill="#a6a6a6" stroke="#505050" stroke-width="1.25"/>
<text x="20.5" y="367.8" font-size="21" text-anchor="middle" fill="#000">,0</text>
<text x="77.48" y="367.8" font-size="21" text-anchor="middle" fill="#000">,2</text>
<text x="134.47" y="367.8" font-size="21" text-anchor="middle" fill="#000">,4</text>
<text x="191.45" y="367.8" font-size="21" text-anchor="middle" fill="#000">,6</text>
<text x="248.43" y="367.8" font-size="21" text-anchor="middle" fill="#000">,8</text>
<text x="305.42" y="367.8" font-size="21" text-anchor="middle" fill="#000">1,0</text>
<text x="362.4" y="367.8" font-size="21" text-anchor="middle" fill="#000">1,2</text>
<text x="452.5" y="65.3" font-size="21.5" text-anchor="start" fill="#000" letter-spacing="0.3">(b) Box Plots for Efficiency</text>
<line x1="467.95" y1="76.6" x2="467.95" y2="346" stroke="#a4a4a4" stroke-width="1" stroke-dasharray="2 2.7"/>
<line x1="467.95" y1="331.5" x2="467.95" y2="346" stroke="#333" stroke-width="1.2"/>
<line x1="523.5" y1="76.6" x2="523.5" y2="346" stroke="#a4a4a4" stroke-width="1" stroke-dasharray="2 2.7"/>
<line x1="523.5" y1="331.5" x2="523.5" y2="346" stroke="#333" stroke-width="1.2"/>
<line x1="579.05" y1="76.6" x2="579.05" y2="346" stroke="#a4a4a4" stroke-width="1" stroke-dasharray="2 2.7"/>
<line x1="579.05" y1="331.5" x2="579.05" y2="346" stroke="#333" stroke-width="1.2"/>
<line x1="634.6" y1="76.6" x2="634.6" y2="346" stroke="#a4a4a4" stroke-width="1" stroke-dasharray="2 2.7"/>
<line x1="634.6" y1="331.5" x2="634.6" y2="346" stroke="#333" stroke-width="1.2"/>
<line x1="690.15" y1="76.6" x2="690.15" y2="346" stroke="#a4a4a4" stroke-width="1" stroke-dasharray="2 2.7"/>
<line x1="690.15" y1="331.5" x2="690.15" y2="346" stroke="#333" stroke-width="1.2"/>
<line x1="412.4" y1="124.3" x2="745.7" y2="124.3" stroke="#a4a4a4" stroke-width="1" stroke-dasharray="2 2.7"/>
<line x1="412.4" y1="211.4" x2="745.7" y2="211.4" stroke="#a4a4a4" stroke-width="1" stroke-dasharray="2 2.7"/>
<line x1="412.4" y1="299.5" x2="745.7" y2="299.5" stroke="#a4a4a4" stroke-width="1" stroke-dasharray="2 2.7"/>
<text x="417.2" y="162.7" font-size="15.2" text-anchor="start" fill="#808080">TOTAL</text>
<text x="413.5" y="249" font-size="14.9" text-anchor="start" fill="#808080">PROFESSIONAL</text>
<text x="413.5" y="341.8" font-size="14.7" text-anchor="start" fill="#808080">NOVICE</text>
<line x1="410.9" y1="168.4" x2="744.2" y2="168.4" stroke="#858585" stroke-width="2.1"/>
<line x1="410.9" y1="253.7" x2="744.2" y2="253.7" stroke="#858585" stroke-width="2.1"/>
<rect x="412.4" y="76.6" width="333.3" height="269.4" fill="none" stroke="#4a4a4a" stroke-width="1.05"/>
<line x1="424.6" y1="103.1" x2="511" y2="103.1" stroke="#222" stroke-width="1.35"/>
<line x1="424.6" y1="95.1" x2="424.6" y2="111.1" stroke="#222" stroke-width="1.5"/>
<line x1="511" y1="95.1" x2="511" y2="111.1" stroke="#222" stroke-width="1.5"/>
<rect x="455.5" y="88.1" width="25.5" height="30" fill="#fff"/>
<line x1="455.5" y1="103.1" x2="481" y2="103.1" stroke="#444" stroke-width="1.5"/>
<g clip-path="url(#c10)"><path d="M453.5 81.17L455 80.65L456.5 80.06L458 79.43L459.5 78.82L461 78.26L462.5 77.79L464 77.44L465.5 77.24L467 77.21L468.5 77.33L470 77.61L471.5 78.03L473 78.55L474.5 79.14L476 79.77L477.5 80.38L479 80.94L480.5 81.41L482 81.76L483.5 81.96M453.5 87.22L455 86.7L456.5 86.11L458 85.48L459.5 84.87L461 84.31L462.5 83.84L464 83.49L465.5 83.29L467 83.26L468.5 83.38L470 83.66L471.5 84.08L473 84.6L474.5 85.19L476 85.82L477.5 86.43L479 86.99L480.5 87.46L482 87.81L483.5 88.01M453.5 93.27L455 92.75L456.5 92.16L458 91.53L459.5 90.92L461 90.36L462.5 89.89L464 89.54L465.5 89.34L467 89.31L468.5 89.43L470 89.71L471.5 90.13L473 90.65L474.5 91.24L476 91.87L477.5 92.48L479 93.04L480.5 93.51L482 93.86L483.5 94.06M453.5 99.32L455 98.8L456.5 98.21L458 97.58L459.5 96.97L461 96.41L462.5 95.94L464 95.59L465.5 95.39L467 95.36L468.5 95.48L470 95.76L471.5 96.18L473 96.7L474.5 97.29L476 97.92L477.5 98.53L479 99.09L480.5 99.56L482 99.91L483.5 100.11M453.5 105.37L455 104.85L456.5 104.26L458 103.63L459.5 103.02L461 102.46L462.5 101.99L464 101.64L465.5 101.44L467 101.41L468.5 101.53L470 101.81L471.5 102.23L473 102.75L474.5 103.34L476 103.97L477.5 104.58L479 105.14L480.5 105.61L482 105.96L483.5 106.16M453.5 111.42L455 110.9L456.5 110.31L458 109.68L459.5 109.07L461 108.51L462.5 108.04L464 107.69L465.5 107.49L467 107.46L468.5 107.58L470 107.86L471.5 108.28L473 108.8L474.5 109.39L476 110.02L477.5 110.63L479 111.19L480.5 111.66L482 112.01L483.5 112.21M453.5 117.47L455 116.95L456.5 116.36L458 115.73L459.5 115.12L461 114.56L462.5 114.09L464 113.74L465.5 113.54L467 113.51L468.5 113.63L470 113.91L471.5 114.33L473 114.85L474.5 115.44L476 116.07L477.5 116.68L479 117.24L480.5 117.71L482 118.06L483.5 118.26M453.5 123.52L455 123L456.5 122.41L458 121.78L459.5 121.17L461 120.61L462.5 120.14L464 119.79L465.5 119.59L467 119.56L468.5 119.68L470 119.96L471.5 120.38L473 120.9L474.5 121.49L476 122.12L477.5 122.73L479 123.29L480.5 123.76L482 124.11L483.5 124.31M453.5 129.57L455 129.05L456.5 128.46L458 127.83L459.5 127.22L461 126.66L462.5 126.19L464 125.84L465.5 125.64L467 125.61L468.5 125.73L470 126.01L471.5 126.43L473 126.95L474.5 127.54L476 128.17L477.5 128.78L479 129.34L480.5 129.81L482 130.16L483.5 130.36" fill="none" stroke="#000" stroke-width="1.35"/></g>
<rect x="455.5" y="88.1" width="25.5" height="30" fill="none" stroke="#000" stroke-width="1.45"/>
<line x1="466.6" y1="88.1" x2="466.6" y2="118.1" stroke="#000" stroke-width="2.3"/>
<circle cx="519" cy="103.1" r="3.2" fill="#fff"/>
<g clip-path="url(#c11)"><path d="M513 90.86L514.5 91.32L516 91.72L517.5 92.03L519 92.23L520.5 92.3L522 92.24L523.5 92.06L525 91.77L526.5 91.38M513 96.91L514.5 97.37L516 97.77L517.5 98.08L519 98.28L520.5 98.35L522 98.29L523.5 98.11L525 97.82L526.5 97.43M513 102.96L514.5 103.42L516 103.82L517.5 104.13L519 104.33L520.5 104.4L522 104.34L523.5 104.16L525 103.87L526.5 103.48M513 109.01L514.5 109.47L516 109.87L517.5 110.18L519 110.38L520.5 110.45L522 110.39L523.5 110.21L525 109.92L526.5 109.53M513 115.06L514.5 115.52L516 115.92L517.5 116.23L519 116.43L520.5 116.5L522 116.44L523.5 116.26L525 115.97L526.5 115.58" fill="none" stroke="#000" stroke-width="1.3"/></g>
<circle cx="519" cy="103.1" r="3.2" fill="none" stroke="#111" stroke-width="1.35"/>
<circle cx="539.5" cy="103.1" r="3.2" fill="#fff"/>
<g clip-path="url(#c12)"><path d="M533.5 89.2L535 88.86L536.5 88.63L538 88.51L539.5 88.52L541 88.66L542.5 88.92L544 89.28L545.5 89.72L547 90.2M533.5 95.25L535 94.91L536.5 94.68L538 94.56L539.5 94.57L541 94.71L542.5 94.97L544 95.33L545.5 95.77L547 96.25M533.5 101.3L535 100.96L536.5 100.73L538 100.61L539.5 100.62L541 100.76L542.5 101.02L544 101.38L545.5 101.82L547 102.3M533.5 107.35L535 107.01L536.5 106.78L538 106.66L539.5 106.67L541 106.81L542.5 107.07L544 107.43L545.5 107.87L547 108.35M533.5 113.4L535 113.06L536.5 112.83L538 112.71L539.5 112.72L541 112.86L542.5 113.12L544 113.48L545.5 113.92L547 114.4" fill="none" stroke="#000" stroke-width="1.3"/></g>
<circle cx="539.5" cy="103.1" r="3.2" fill="none" stroke="#111" stroke-width="1.35"/>
<line x1="484.5" y1="145.3" x2="688.3" y2="145.3" stroke="#222" stroke-width="1.35"/>
<line x1="484.5" y1="137.3" x2="484.5" y2="153.3" stroke="#222" stroke-width="1.5"/>
<line x1="688.3" y1="137.3" x2="688.3" y2="153.3" stroke="#222" stroke-width="1.5"/>
<rect x="531.5" y="130.3" width="66.1" height="30" fill="#ababab" stroke="#3c3c3c" stroke-width="1.3"/>
<line x1="563" y1="130.3" x2="563" y2="160.3" stroke="#000" stroke-width="2.3"/>
<circle cx="701" cy="145.3" r="3.25" fill="#a6a6a6" stroke="#505050" stroke-width="1.25"/>
<line x1="427" y1="190.2" x2="477" y2="190.2" stroke="#222" stroke-width="1.35"/>
<line x1="427" y1="182.2" x2="427" y2="198.2" stroke="#222" stroke-width="1.5"/>
<line x1="477" y1="182.2" x2="477" y2="198.2" stroke="#222" stroke-width="1.5"/>
<rect x="434.5" y="175.2" width="30" height="30" fill="#fff"/>
<line x1="434.5" y1="190.2" x2="464.5" y2="190.2" stroke="#444" stroke-width="1.5"/>
<g clip-path="url(#c13)"><path d="M432.5 164.43L434 164.71L435.5 165.13L437 165.65L438.5 166.24L440 166.87L441.5 167.48L443 168.04L444.5 168.51L446 168.86L447.5 169.06L449 169.09L450.5 168.97L452 168.69L453.5 168.27L455 167.75L456.5 167.16L458 166.53L459.5 165.92L461 165.36L462.5 164.89L464 164.54L465.5 164.34L467 164.31M432.5 170.48L434 170.76L435.5 171.18L437 171.7L438.5 172.29L440 172.92L441.5 173.53L443 174.09L444.5 174.56L446 174.91L447.5 175.11L449 175.14L450.5 175.02L452 174.74L453.5 174.32L455 173.8L456.5 173.21L458 172.58L459.5 171.97L461 171.41L462.5 170.94L464 170.59L465.5 170.39L467 170.36M432.5 176.53L434 176.81L435.5 177.23L437 177.75L438.5 178.34L440 178.97L441.5 179.58L443 180.14L444.5 180.61L446 180.96L447.5 181.16L449 181.19L450.5 181.07L452 180.79L453.5 180.37L455 179.85L456.5 179.26L458 178.63L459.5 178.02L461 177.46L462.5 176.99L464 176.64L465.5 176.44L467 176.41M432.5 182.58L434 182.86L435.5 183.28L437 183.8L438.5 184.39L440 185.02L441.5 185.63L443 186.19L444.5 186.66L446 187.01L447.5 187.21L449 187.24L450.5 187.12L452 186.84L453.5 186.42L455 185.9L456.5 185.31L458 184.68L459.5 184.07L461 183.51L462.5 183.04L464 182.69L465.5 182.49L467 182.46M432.5 188.63L434 188.91L435.5 189.33L437 189.85L438.5 190.44L440 191.07L441.5 191.68L443 192.24L444.5 192.71L446 193.06L447.5 193.26L449 193.29L450.5 193.17L452 192.89L453.5 192.47L455 191.95L456.5 191.36L458 190.73L459.5 190.12L461 189.56L462.5 189.09L464 188.74L465.5 188.54L467 188.51M432.5 194.68L434 194.96L435.5 195.38L437 195.9L438.5 196.49L440 197.12L441.5 197.73L443 198.29L444.5 198.76L446 199.11L447.5 199.31L449 199.34L450.5 199.22L452 198.94L453.5 198.52L455 198L456.5 197.41L458 196.78L459.5 196.17L461 195.61L462.5 195.14L464 194.79L465.5 194.59L467 194.56M432.5 200.73L434 201.01L435.5 201.43L437 201.95L438.5 202.54L440 203.17L441.5 203.78L443 204.34L444.5 204.81L446 205.16L447.5 205.36L449 205.39L450.5 205.27L452 204.99L453.5 204.57L455 204.05L456.5 203.46L458 202.83L459.5 202.22L461 201.66L462.5 201.19L464 200.84L465.5 200.64L467 200.61M432.5 206.78L434 207.06L435.5 207.48L437 208L438.5 208.59L440 209.22L441.5 209.83L443 210.39L444.5 210.86L446 211.21L447.5 211.41L449 211.44L450.5 211.32L452 211.04L453.5 210.62L455 210.1L456.5 209.51L458 208.88L459.5 208.27L461 207.71L462.5 207.24L464 206.89L465.5 206.69L467 206.66M432.5 212.83L434 213.11L435.5 213.53L437 214.05L438.5 214.64L440 215.27L441.5 215.88L443 216.44L444.5 216.91L446 217.26L447.5 217.46L449 217.49L450.5 217.37L452 217.09L453.5 216.67L455 216.15L456.5 215.56L458 214.93L459.5 214.32L461 213.76L462.5 213.29L464 212.94L465.5 212.74L467 212.71" fill="none" stroke="#000" stroke-width="1.35"/></g>
<rect x="434.5" y="175.2" width="30" height="30" fill="none" stroke="#000" stroke-width="1.45"/>
<line x1="448" y1="175.2" x2="448" y2="205.2" stroke="#000" stroke-width="2.3"/>
<circle cx="518.5" cy="190.2" r="3.2" fill="#fff"/>
<g clip-path="url(#c14)"><path d="M512.5 177.8L514 178.27L515.5 178.7L517 179.04L518.5 179.27L520 179.39L521.5 179.38L523 179.24L524.5 178.98L526 178.62M512.5 183.85L514 184.32L515.5 184.75L517 185.09L518.5 185.32L520 185.44L521.5 185.43L523 185.29L524.5 185.03L526 184.67M512.5 189.9L514 190.37L515.5 190.8L517 191.14L518.5 191.37L520 191.49L521.5 191.48L523 191.34L524.5 191.08L526 190.72M512.5 195.95L514 196.42L515.5 196.85L517 197.19L518.5 197.42L520 197.54L521.5 197.53L523 197.39L524.5 197.13L526 196.77M512.5 202L514 202.47L515.5 202.9L517 203.24L518.5 203.47L520 203.59L521.5 203.58L523 203.44L524.5 203.18L526 202.82" fill="none" stroke="#000" stroke-width="1.3"/></g>
<circle cx="518.5" cy="190.2" r="3.2" fill="none" stroke="#111" stroke-width="1.35"/>
<line x1="495.5" y1="233" x2="627" y2="233" stroke="#222" stroke-width="1.35"/>
<line x1="495.5" y1="225" x2="495.5" y2="241" stroke="#222" stroke-width="1.5"/>
<line x1="627" y1="225" x2="627" y2="241" stroke="#222" stroke-width="1.5"/>
<rect x="531.5" y="218" width="45.5" height="30" fill="#ababab" stroke="#3c3c3c" stroke-width="1.3"/>
<line x1="553" y1="218" x2="553" y2="248" stroke="#000" stroke-width="2.3"/>
<circle cx="672.5" cy="233" r="3.25" fill="#a6a6a6" stroke="#505050" stroke-width="1.25"/>
<line x1="439" y1="277.6" x2="520" y2="277.6" stroke="#222" stroke-width="1.35"/>
<line x1="439" y1="269.6" x2="439" y2="285.6" stroke="#222" stroke-width="1.5"/>
<line x1="520" y1="269.6" x2="520" y2="285.6" stroke="#222" stroke-width="1.5"/>
<rect x="463" y="262.6" width="24" height="30" fill="#fff"/>
<line x1="463" y1="277.6" x2="487" y2="277.6" stroke="#444" stroke-width="1.5"/>
<g clip-path="url(#c15)"><path d="M461 252.76L462.5 252.29L464 251.94L465.5 251.74L467 251.71L468.5 251.83L470 252.11L471.5 252.53L473 253.05L474.5 253.64L476 254.27L477.5 254.88L479 255.44L480.5 255.91L482 256.26L483.5 256.46L485 256.49L486.5 256.37L488 256.09L489.5 255.67M461 258.81L462.5 258.34L464 257.99L465.5 257.79L467 257.76L468.5 257.88L470 258.16L471.5 258.58L473 259.1L474.5 259.69L476 260.32L477.5 260.93L479 261.49L480.5 261.96L482 262.31L483.5 262.51L485 262.54L486.5 262.42L488 262.14L489.5 261.72M461 264.86L462.5 264.39L464 264.04L465.5 263.84L467 263.81L468.5 263.93L470 264.21L471.5 264.63L473 265.15L474.5 265.74L476 266.37L477.5 266.98L479 267.54L480.5 268.01L482 268.36L483.5 268.56L485 268.59L486.5 268.47L488 268.19L489.5 267.77M461 270.91L462.5 270.44L464 270.09L465.5 269.89L467 269.86L468.5 269.98L470 270.26L471.5 270.68L473 271.2L474.5 271.79L476 272.42L477.5 273.03L479 273.59L480.5 274.06L482 274.41L483.5 274.61L485 274.64L486.5 274.52L488 274.24L489.5 273.82M461 276.96L462.5 276.49L464 276.14L465.5 275.94L467 275.91L468.5 276.03L470 276.31L471.5 276.73L473 277.25L474.5 277.84L476 278.47L477.5 279.08L479 279.64L480.5 280.11L482 280.46L483.5 280.66L485 280.69L486.5 280.57L488 280.29L489.5 279.87M461 283.01L462.5 282.54L464 282.19L465.5 281.99L467 281.96L468.5 282.08L470 282.36L471.5 282.78L473 283.3L474.5 283.89L476 284.52L477.5 285.13L479 285.69L480.5 286.16L482 286.51L483.5 286.71L485 286.74L486.5 286.62L488 286.34L489.5 285.92M461 289.06L462.5 288.59L464 288.24L465.5 288.04L467 288.01L468.5 288.13L470 288.41L471.5 288.83L473 289.35L474.5 289.94L476 290.57L477.5 291.18L479 291.74L480.5 292.21L482 292.56L483.5 292.76L485 292.79L486.5 292.67L488 292.39L489.5 291.97M461 295.11L462.5 294.64L464 294.29L465.5 294.09L467 294.06L468.5 294.18L470 294.46L471.5 294.88L473 295.4L474.5 295.99L476 296.62L477.5 297.23L479 297.79L480.5 298.26L482 298.61L483.5 298.81L485 298.84L486.5 298.72L488 298.44L489.5 298.02M461 301.16L462.5 300.69L464 300.34L465.5 300.14L467 300.11L468.5 300.23L470 300.51L471.5 300.93L473 301.45L474.5 302.04L476 302.67L477.5 303.28L479 303.84L480.5 304.31L482 304.66L483.5 304.86L485 304.89L486.5 304.77L488 304.49L489.5 304.07" fill="none" stroke="#000" stroke-width="1.35"/></g>
<rect x="463" y="262.6" width="24" height="30" fill="none" stroke="#000" stroke-width="1.45"/>
<line x1="470.5" y1="262.6" x2="470.5" y2="292.6" stroke="#000" stroke-width="2.3"/>
<circle cx="424.5" cy="277.6" r="3.2" fill="#fff"/>
<g clip-path="url(#c16)"><path d="M418.5 265.88L420 265.42L421.5 264.93L423 264.44L424.5 263.98L426 263.58L427.5 263.27L429 263.07L430.5 263L432 263.06M418.5 271.93L420 271.47L421.5 270.98L423 270.49L424.5 270.03L426 269.63L427.5 269.32L429 269.12L430.5 269.05L432 269.11M418.5 277.98L420 277.52L421.5 277.03L423 276.54L424.5 276.08L426 275.68L427.5 275.37L429 275.17L430.5 275.1L432 275.16M418.5 284.03L420 283.57L421.5 283.08L423 282.59L424.5 282.13L426 281.73L427.5 281.42L429 281.22L430.5 281.15L432 281.21M418.5 290.08L420 289.62L421.5 289.13L423 288.64L424.5 288.18L426 287.78L427.5 287.47L429 287.27L430.5 287.2L432 287.26" fill="none" stroke="#000" stroke-width="1.3"/></g>
<circle cx="424.5" cy="277.6" r="3.2" fill="none" stroke="#111" stroke-width="1.35"/>
<circle cx="427" cy="277.6" r="3.2" fill="#fff"/>
<g clip-path="url(#c17)"><path d="M421 265.1L422.5 264.6L424 264.13L425.5 263.7L427 263.36L428.5 263.13L430 263.01L431.5 263.02L433 263.16L434.5 263.42M421 271.15L422.5 270.65L424 270.18L425.5 269.75L427 269.41L428.5 269.18L430 269.06L431.5 269.07L433 269.21L434.5 269.47M421 277.2L422.5 276.7L424 276.23L425.5 275.8L427 275.46L428.5 275.23L430 275.11L431.5 275.12L433 275.26L434.5 275.52M421 283.25L422.5 282.75L424 282.28L425.5 281.85L427 281.51L428.5 281.28L430 281.16L431.5 281.17L433 281.31L434.5 281.57M421 289.3L422.5 288.8L424 288.33L425.5 287.9L427 287.56L428.5 287.33L430 287.21L431.5 287.22L433 287.36L434.5 287.62" fill="none" stroke="#000" stroke-width="1.3"/></g>
<circle cx="427" cy="277.6" r="3.2" fill="none" stroke="#111" stroke-width="1.35"/>
<circle cx="539.5" cy="277.6" r="3.2" fill="#fff"/>
<g clip-path="url(#c18)"><path d="M533.5 263.7L535 263.36L536.5 263.13L538 263.01L539.5 263.02L541 263.16L542.5 263.42L544 263.78L545.5 264.22L547 264.7M533.5 269.75L535 269.41L536.5 269.18L538 269.06L539.5 269.07L541 269.21L542.5 269.47L544 269.83L545.5 270.27L547 270.75M533.5 275.8L535 275.46L536.5 275.23L538 275.11L539.5 275.12L541 275.26L542.5 275.52L544 275.88L545.5 276.32L547 276.8M533.5 281.85L535 281.51L536.5 281.28L538 281.16L539.5 281.17L541 281.31L542.5 281.57L544 281.93L545.5 282.37L547 282.85M533.5 287.9L535 287.56L536.5 287.33L538 287.21L539.5 287.22L541 287.36L542.5 287.62L544 287.98L545.5 288.42L547 288.9" fill="none" stroke="#000" stroke-width="1.3"/></g>
<circle cx="539.5" cy="277.6" r="3.2" fill="none" stroke="#111" stroke-width="1.35"/>
<line x1="484.5" y1="320.3" x2="666.5" y2="320.3" stroke="#222" stroke-width="1.35"/>
<line x1="484.5" y1="312.3" x2="484.5" y2="328.3" stroke="#222" stroke-width="1.5"/>
<line x1="666.5" y1="312.3" x2="666.5" y2="328.3" stroke="#222" stroke-width="1.5"/>
<rect x="543" y="305.3" width="54.5" height="30" fill="#ababab" stroke="#3c3c3c" stroke-width="1.3"/>
<line x1="564" y1="305.3" x2="564" y2="335.3" stroke="#000" stroke-width="2.3"/>
<circle cx="688" cy="320.3" r="3.25" fill="#a6a6a6" stroke="#505050" stroke-width="1.25"/>
<circle cx="701" cy="320.3" r="3.25" fill="#a6a6a6" stroke="#505050" stroke-width="1.25"/>
<text x="411.4" y="366.2" font-size="21.5" text-anchor="middle" fill="#000">,000</text>
<text x="466.95" y="366.2" font-size="21.5" text-anchor="middle" fill="#000">,005</text>
<text x="522.5" y="366.2" font-size="21.5" text-anchor="middle" fill="#000">,010</text>
<text x="578.05" y="366.2" font-size="21.5" text-anchor="middle" fill="#000">,015</text>
<text x="633.6" y="366.2" font-size="21.5" text-anchor="middle" fill="#000">,020</text>
<text x="689.15" y="366.2" font-size="21.5" text-anchor="middle" fill="#000">,025</text>
<text x="744.7" y="366.2" font-size="21.5" text-anchor="middle" fill="#000">,030</text>
<text x="49.6" y="397.2" font-size="21.5" text-anchor="start" fill="#000" letter-spacing="0.46">(c) Histograms for Correctness</text>
<line x1="78" y1="405.6" x2="78" y2="655.5" stroke="#999" stroke-width="1" stroke-dasharray="2 2.6"/>
<line x1="135.4" y1="405.6" x2="135.4" y2="655.5" stroke="#999" stroke-width="1" stroke-dasharray="2 2.6"/>
<line x1="192.8" y1="405.6" x2="192.8" y2="655.5" stroke="#999" stroke-width="1" stroke-dasharray="2 2.6"/>
<line x1="250.2" y1="405.6" x2="250.2" y2="655.5" stroke="#999" stroke-width="1" stroke-dasharray="2 2.6"/>
<line x1="307.6" y1="405.6" x2="307.6" y2="655.5" stroke="#999" stroke-width="1" stroke-dasharray="2 2.6"/>
<rect x="42.12" y="622.18" width="14.35" height="33.32" fill="#fff"/>
<g clip-path="url(#c19)"><path d="M40.12 616.28L41.62 615.73L43.12 615.19L44.62 614.72L46.12 614.36L47.62 614.17L49.12 614.16L50.62 614.32L52.12 614.65L53.62 615.1L55.12 615.64L56.62 616.19L58.12 616.71L59.62 617.13M40.12 620.95L41.62 620.4L43.12 619.86L44.62 619.39L46.12 619.03L47.62 618.84L49.12 618.83L50.62 618.99L52.12 619.32L53.62 619.77L55.12 620.31L56.62 620.86L58.12 621.38L59.62 621.8M40.12 625.62L41.62 625.07L43.12 624.53L44.62 624.06L46.12 623.7L47.62 623.51L49.12 623.5L50.62 623.66L52.12 623.99L53.62 624.44L55.12 624.98L56.62 625.53L58.12 626.05L59.62 626.47M40.12 630.29L41.62 629.74L43.12 629.2L44.62 628.73L46.12 628.37L47.62 628.18L49.12 628.17L50.62 628.33L52.12 628.66L53.62 629.11L55.12 629.65L56.62 630.2L58.12 630.72L59.62 631.14M40.12 634.96L41.62 634.41L43.12 633.87L44.62 633.4L46.12 633.04L47.62 632.85L49.12 632.84L50.62 633L52.12 633.33L53.62 633.78L55.12 634.32L56.62 634.87L58.12 635.39L59.62 635.81M40.12 639.63L41.62 639.08L43.12 638.54L44.62 638.07L46.12 637.71L47.62 637.52L49.12 637.51L50.62 637.67L52.12 638L53.62 638.45L55.12 638.99L56.62 639.54L58.12 640.06L59.62 640.48M40.12 644.3L41.62 643.75L43.12 643.21L44.62 642.74L46.12 642.38L47.62 642.19L49.12 642.18L50.62 642.34L52.12 642.67L53.62 643.12L55.12 643.66L56.62 644.21L58.12 644.73L59.62 645.15M40.12 648.97L41.62 648.42L43.12 647.88L44.62 647.41L46.12 647.05L47.62 646.86L49.12 646.85L50.62 647.01L52.12 647.34L53.62 647.79L55.12 648.33L56.62 648.88L58.12 649.4L59.62 649.82M40.12 653.64L41.62 653.09L43.12 652.55L44.62 652.08L46.12 651.72L47.62 651.53L49.12 651.52L50.62 651.68L52.12 652.01L53.62 652.46L55.12 653L56.62 653.55L58.12 654.07L59.62 654.49M40.12 658.31L41.62 657.76L43.12 657.22L44.62 656.75L46.12 656.39L47.62 656.2L49.12 656.19L50.62 656.35L52.12 656.68L53.62 657.13L55.12 657.67L56.62 658.22L58.12 658.74L59.62 659.16M40.12 662.98L41.62 662.43L43.12 661.89L44.62 661.42L46.12 661.06L47.62 660.87L49.12 660.86L50.62 661.02L52.12 661.35L53.62 661.8L55.12 662.34L56.62 662.89L58.12 663.41L59.62 663.83" fill="none" stroke="#000" stroke-width="1.3"/></g>
<rect x="56.48" y="622.18" width="14.35" height="33.32" fill="#fff"/>
<g clip-path="url(#c20)"><path d="M54.48 615.4L55.98 615.95L57.48 616.49L58.98 616.96L60.48 617.32L61.98 617.51L63.48 617.52L64.97 617.36L66.47 617.03L67.97 616.58L69.47 616.04L70.97 615.49L72.47 614.97L73.97 614.55M54.48 620.07L55.98 620.62L57.48 621.16L58.98 621.63L60.48 621.99L61.98 622.18L63.48 622.19L64.97 622.03L66.47 621.7L67.97 621.25L69.47 620.71L70.97 620.16L72.47 619.64L73.97 619.22M54.48 624.74L55.98 625.29L57.48 625.83L58.98 626.3L60.48 626.66L61.98 626.85L63.48 626.86L64.97 626.7L66.47 626.37L67.97 625.92L69.47 625.38L70.97 624.83L72.47 624.31L73.97 623.89M54.48 629.41L55.98 629.96L57.48 630.5L58.98 630.97L60.48 631.33L61.98 631.52L63.48 631.53L64.97 631.37L66.47 631.04L67.97 630.59L69.47 630.05L70.97 629.5L72.47 628.98L73.97 628.56M54.48 634.08L55.98 634.63L57.48 635.17L58.98 635.64L60.48 636L61.98 636.19L63.48 636.2L64.97 636.04L66.47 635.71L67.97 635.26L69.47 634.72L70.97 634.17L72.47 633.65L73.97 633.23M54.48 638.75L55.98 639.3L57.48 639.84L58.98 640.31L60.48 640.67L61.98 640.86L63.48 640.87L64.97 640.71L66.47 640.38L67.97 639.93L69.47 639.39L70.97 638.84L72.47 638.32L73.97 637.9M54.48 643.42L55.98 643.97L57.48 644.51L58.98 644.98L60.48 645.34L61.98 645.53L63.48 645.54L64.97 645.38L66.47 645.05L67.97 644.6L69.47 644.06L70.97 643.51L72.47 642.99L73.97 642.57M54.48 648.09L55.98 648.64L57.48 649.18L58.98 649.65L60.48 650.01L61.98 650.2L63.48 650.21L64.97 650.05L66.47 649.72L67.97 649.27L69.47 648.73L70.97 648.18L72.47 647.66L73.97 647.24M54.48 652.76L55.98 653.31L57.48 653.85L58.98 654.32L60.48 654.68L61.98 654.87L63.48 654.88L64.97 654.72L66.47 654.39L67.97 653.94L69.47 653.4L70.97 652.85L72.47 652.33L73.97 651.91M54.48 657.43L55.98 657.98L57.48 658.52L58.98 658.99L60.48 659.35L61.98 659.54L63.48 659.55L64.97 659.39L66.47 659.06L67.97 658.61L69.47 658.07L70.97 657.52L72.47 657L73.97 656.58M54.48 662.1L55.98 662.65L57.48 663.19L58.98 663.66L60.48 664.02L61.98 664.21L63.48 664.22L64.97 664.06L66.47 663.73L67.97 663.28L69.47 662.74L70.97 662.19L72.47 661.67L73.97 661.25" fill="none" stroke="#000" stroke-width="1.3"/></g>
<rect x="70.82" y="638.84" width="14.35" height="16.66" fill="#fff"/>
<g clip-path="url(#c21)"><path d="M68.82 633.95L70.32 634.5L71.82 635.05L73.32 635.54L74.82 635.93L76.32 636.16L77.82 636.22L79.32 636.09L80.82 635.8L82.32 635.37L83.82 634.85L85.32 634.3L86.82 633.77L88.32 633.31M68.82 638.62L70.32 639.17L71.82 639.72L73.32 640.21L74.82 640.6L76.32 640.83L77.82 640.89L79.32 640.76L80.82 640.47L82.32 640.04L83.82 639.52L85.32 638.97L86.82 638.44L88.32 637.98M68.82 643.29L70.32 643.84L71.82 644.39L73.32 644.88L74.82 645.27L76.32 645.5L77.82 645.56L79.32 645.43L80.82 645.14L82.32 644.71L83.82 644.19L85.32 643.64L86.82 643.11L88.32 642.65M68.82 647.96L70.32 648.51L71.82 649.06L73.32 649.55L74.82 649.94L76.32 650.17L77.82 650.23L79.32 650.1L80.82 649.81L82.32 649.38L83.82 648.86L85.32 648.31L86.82 647.78L88.32 647.32M68.82 652.63L70.32 653.18L71.82 653.73L73.32 654.22L74.82 654.61L76.32 654.84L77.82 654.9L79.32 654.77L80.82 654.48L82.32 654.05L83.82 653.53L85.32 652.98L86.82 652.45L88.32 651.99M68.82 657.3L70.32 657.85L71.82 658.4L73.32 658.89L74.82 659.28L76.32 659.51L77.82 659.57L79.32 659.44L80.82 659.15L82.32 658.72L83.82 658.2L85.32 657.65L86.82 657.12L88.32 656.66M68.82 661.97L70.32 662.52L71.82 663.07L73.32 663.56L74.82 663.95L76.32 664.18L77.82 664.24L79.32 664.11L80.82 663.82L82.32 663.39L83.82 662.87L85.32 662.32L86.82 661.79L88.32 661.33" fill="none" stroke="#000" stroke-width="1.3"/></g>
<rect x="85.18" y="588.86" width="14.35" height="66.64" fill="#fff"/>
<g clip-path="url(#c22)"><path d="M83.18 584.76L84.68 584.85L86.18 584.76L87.68 584.49L89.18 584.08L90.68 583.57L92.18 583.02L93.68 582.48L95.18 582.01L96.68 581.67L98.18 581.48L99.68 581.47L101.18 581.64L102.68 581.97M83.18 589.43L84.68 589.52L86.18 589.43L87.68 589.16L89.18 588.75L90.68 588.24L92.18 587.69L93.68 587.15L95.18 586.68L96.68 586.34L98.18 586.15L99.68 586.14L101.18 586.31L102.68 586.64M83.18 594.1L84.68 594.19L86.18 594.1L87.68 593.83L89.18 593.42L90.68 592.91L92.18 592.36L93.68 591.82L95.18 591.35L96.68 591.01L98.18 590.82L99.68 590.81L101.18 590.98L102.68 591.31M83.18 598.77L84.68 598.86L86.18 598.77L87.68 598.5L89.18 598.09L90.68 597.58L92.18 597.03L93.68 596.49L95.18 596.02L96.68 595.68L98.18 595.49L99.68 595.48L101.18 595.65L102.68 595.98M83.18 603.44L84.68 603.53L86.18 603.44L87.68 603.17L89.18 602.76L90.68 602.25L92.18 601.7L93.68 601.16L95.18 600.69L96.68 600.35L98.18 600.16L99.68 600.15L101.18 600.32L102.68 600.65M83.18 608.11L84.68 608.2L86.18 608.11L87.68 607.84L89.18 607.43L90.68 606.92L92.18 606.37L93.68 605.83L95.18 605.36L96.68 605.02L98.18 604.83L99.68 604.82L101.18 604.99L102.68 605.32M83.18 612.78L84.68 612.87L86.18 612.78L87.68 612.51L89.18 612.1L90.68 611.59L92.18 611.04L93.68 610.5L95.18 610.03L96.68 609.69L98.18 609.5L99.68 609.49L101.18 609.66L102.68 609.99M83.18 617.45L84.68 617.54L86.18 617.45L87.68 617.18L89.18 616.77L90.68 616.26L92.18 615.71L93.68 615.17L95.18 614.7L96.68 614.36L98.18 614.17L99.68 614.16L101.18 614.33L102.68 614.66M83.18 622.12L84.68 622.21L86.18 622.12L87.68 621.85L89.18 621.44L90.68 620.93L92.18 620.38L93.68 619.84L95.18 619.37L96.68 619.03L98.18 618.84L99.68 618.83L101.18 619L102.68 619.33M83.18 626.79L84.68 626.88L86.18 626.79L87.68 626.52L89.18 626.11L90.68 625.6L92.18 625.05L93.68 624.51L95.18 624.04L96.68 623.7L98.18 623.51L99.68 623.5L101.18 623.67L102.68 624M83.18 631.46L84.68 631.55L86.18 631.46L87.68 631.19L89.18 630.78L90.68 630.27L92.18 629.72L93.68 629.18L95.18 628.71L96.68 628.37L98.18 628.18L99.68 628.17L101.18 628.34L102.68 628.67M83.18 636.13L84.68 636.22L86.18 636.13L87.68 635.86L89.18 635.45L90.68 634.94L92.18 634.39L93.68 633.85L95.18 633.38L96.68 633.04L98.18 632.85L99.68 632.84L101.18 633.01L102.68 633.34M83.18 640.8L84.68 640.89L86.18 640.8L87.68 640.53L89.18 640.12L90.68 639.61L92.18 639.06L93.68 638.52L95.18 638.05L96.68 637.71L98.18 637.52L99.68 637.51L101.18 637.68L102.68 638.01M83.18 645.47L84.68 645.56L86.18 645.47L87.68 645.2L89.18 644.79L90.68 644.28L92.18 643.73L93.68 643.19L95.18 642.72L96.68 642.38L98.18 642.19L99.68 642.18L101.18 642.35L102.68 642.68M83.18 650.14L84.68 650.23L86.18 650.14L87.68 649.87L89.18 649.46L90.68 648.95L92.18 648.4L93.68 647.86L95.18 647.39L96.68 647.05L98.18 646.86L99.68 646.85L101.18 647.02L102.68 647.35M83.18 654.81L84.68 654.9L86.18 654.81L87.68 654.54L89.18 654.13L90.68 653.62L92.18 653.07L93.68 652.53L95.18 652.06L96.68 651.72L98.18 651.53L99.68 651.52L101.18 651.69L102.68 652.02M83.18 659.48L84.68 659.57L86.18 659.48L87.68 659.21L89.18 658.8L90.68 658.29L92.18 657.74L93.68 657.2L95.18 656.73L96.68 656.39L98.18 656.2L99.68 656.19L101.18 656.36L102.68 656.69M83.18 664.15L84.68 664.24L86.18 664.15L87.68 663.88L89.18 663.47L90.68 662.96L92.18 662.41L93.68 661.87L95.18 661.4L96.68 661.06L98.18 660.87L99.68 660.86L101.18 661.03L102.68 661.36" fill="none" stroke="#000" stroke-width="1.3"/></g>
<rect x="99.53" y="522.22" width="14.35" height="133.28" fill="#fff"/>
<g clip-path="url(#c23)"><path d="M97.53 511.54L99.03 511.51L100.53 511.66L102.03 511.98L103.53 512.43L105.03 512.96L106.53 513.51L108.03 514.04L109.53 514.47L111.03 514.77L112.53 514.9L114.03 514.84L115.53 514.62L117.03 514.24M97.53 517.14L99.03 517.11L100.53 517.26L102.03 517.58L103.53 518.03L105.03 518.56L106.53 519.11L108.03 519.64L109.53 520.07L111.03 520.37L112.53 520.5L114.03 520.44L115.53 520.22L117.03 519.84M97.53 522.74L99.03 522.71L100.53 522.86L102.03 523.18L103.53 523.63L105.03 524.16L106.53 524.71L108.03 525.24L109.53 525.67L111.03 525.97L112.53 526.1L114.03 526.04L115.53 525.82L117.03 525.44M97.53 528.34L99.03 528.31L100.53 528.46L102.03 528.78L103.53 529.23L105.03 529.76L106.53 530.31L108.03 530.84L109.53 531.27L111.03 531.57L112.53 531.7L114.03 531.64L115.53 531.42L117.03 531.04M97.53 533.94L99.03 533.91L100.53 534.06L102.03 534.38L103.53 534.83L105.03 535.36L106.53 535.91L108.03 536.44L109.53 536.87L111.03 537.17L112.53 537.3L114.03 537.24L115.53 537.02L117.03 536.64M97.53 539.54L99.03 539.51L100.53 539.66L102.03 539.98L103.53 540.43L105.03 540.96L106.53 541.51L108.03 542.04L109.53 542.47L111.03 542.77L112.53 542.9L114.03 542.84L115.53 542.62L117.03 542.24M97.53 545.14L99.03 545.11L100.53 545.26L102.03 545.58L103.53 546.03L105.03 546.56L106.53 547.11L108.03 547.64L109.53 548.07L111.03 548.37L112.53 548.5L114.03 548.44L115.53 548.22L117.03 547.84M97.53 550.74L99.03 550.71L100.53 550.86L102.03 551.18L103.53 551.63L105.03 552.16L106.53 552.71L108.03 553.24L109.53 553.67L111.03 553.97L112.53 554.1L114.03 554.04L115.53 553.82L117.03 553.44M97.53 556.34L99.03 556.31L100.53 556.46L102.03 556.78L103.53 557.23L105.03 557.76L106.53 558.31L108.03 558.84L109.53 559.27L111.03 559.57L112.53 559.7L114.03 559.64L115.53 559.42L117.03 559.04M97.53 561.94L99.03 561.91L100.53 562.06L102.03 562.38L103.53 562.83L105.03 563.36L106.53 563.91L108.03 564.44L109.53 564.87L111.03 565.17L112.53 565.3L114.03 565.24L115.53 565.02L117.03 564.64M97.53 567.54L99.03 567.51L100.53 567.66L102.03 567.98L103.53 568.43L105.03 568.96L106.53 569.51L108.03 570.04L109.53 570.47L111.03 570.77L112.53 570.9L114.03 570.84L115.53 570.62L117.03 570.24M97.53 573.14L99.03 573.11L100.53 573.26L102.03 573.58L103.53 574.03L105.03 574.56L106.53 575.11L108.03 575.64L109.53 576.07L111.03 576.37L112.53 576.5L114.03 576.44L115.53 576.22L117.03 575.84M97.53 578.74L99.03 578.71L100.53 578.86L102.03 579.18L103.53 579.63L105.03 580.16L106.53 580.71L108.03 581.24L109.53 581.67L111.03 581.97L112.53 582.1L114.03 582.04L115.53 581.82L117.03 581.44M97.53 584.34L99.03 584.31L100.53 584.46L102.03 584.78L103.53 585.23L105.03 585.76L106.53 586.31L108.03 586.84L109.53 587.27L111.03 587.57L112.53 587.7L114.03 587.64L115.53 587.42L117.03 587.04M97.53 589.94L99.03 589.91L100.53 590.06L102.03 590.38L103.53 590.83L105.03 591.36L106.53 591.91L108.03 592.44L109.53 592.87L111.03 593.17L112.53 593.3L114.03 593.24L115.53 593.02L117.03 592.64M97.53 595.54L99.03 595.51L100.53 595.66L102.03 595.98L103.53 596.43L105.03 596.96L106.53 597.51L108.03 598.04L109.53 598.47L111.03 598.77L112.53 598.9L114.03 598.84L115.53 598.62L117.03 598.24M97.53 601.14L99.03 601.11L100.53 601.26L102.03 601.58L103.53 602.03L105.03 602.56L106.53 603.11L108.03 603.64L109.53 604.07L111.03 604.37L112.53 604.5L114.03 604.44L115.53 604.22L117.03 603.84M97.53 606.74L99.03 606.71L100.53 606.86L102.03 607.18L103.53 607.63L105.03 608.16L106.53 608.71L108.03 609.24L109.53 609.67L111.03 609.97L112.53 610.1L114.03 610.04L115.53 609.82L117.03 609.44M97.53 612.34L99.03 612.31L100.53 612.46L102.03 612.78L103.53 613.23L105.03 613.76L106.53 614.31L108.03 614.84L109.53 615.27L111.03 615.57L112.53 615.7L114.03 615.64L115.53 615.42L117.03 615.04M97.53 617.94L99.03 617.91L100.53 618.06L102.03 618.38L103.53 618.83L105.03 619.36L106.53 619.91L108.03 620.44L109.53 620.87L111.03 621.17L112.53 621.3L114.03 621.24L115.53 621.02L117.03 620.64M97.53 623.54L99.03 623.51L100.53 623.66L102.03 623.98L103.53 624.43L105.03 624.96L106.53 625.51L108.03 626.04L109.53 626.47L111.03 626.77L112.53 626.9L114.03 626.84L115.53 626.62L117.03 626.24M97.53 629.14L99.03 629.11L100.53 629.26L102.03 629.58L103.53 630.03L105.03 630.56L106.53 631.11L108.03 631.64L109.53 632.07L111.03 632.37L112.53 632.5L114.03 632.44L115.53 632.22L117.03 631.84M97.53 634.74L99.03 634.71L100.53 634.86L102.03 635.18L103.53 635.63L105.03 636.16L106.53 636.71L108.03 637.24L109.53 637.67L111.03 637.97L112.53 638.1L114.03 638.04L115.53 637.82L117.03 637.44M97.53 640.34L99.03 640.31L100.53 640.46L102.03 640.78L103.53 641.23L105.03 641.76L106.53 642.31L108.03 642.84L109.53 643.27L111.03 643.57L112.53 643.7L114.03 643.64L115.53 643.42L117.03 643.04M97.53 645.94L99.03 645.91L100.53 646.06L102.03 646.38L103.53 646.83L105.03 647.36L106.53 647.91L108.03 648.44L109.53 648.87L111.03 649.17L112.53 649.3L114.03 649.24L115.53 649.02L117.03 648.64M97.53 651.54L99.03 651.51L100.53 651.66L102.03 651.98L103.53 652.43L105.03 652.96L106.53 653.51L108.03 654.04L109.53 654.47L111.03 654.77L112.53 654.9L114.03 654.84L115.53 654.62L117.03 654.24M97.53 657.14L99.03 657.11L100.53 657.26L102.03 657.58L103.53 658.03L105.03 658.56L106.53 659.11L108.03 659.64L109.53 660.07L111.03 660.37L112.53 660.5L114.03 660.44L115.53 660.22L117.03 659.84M97.53 662.74L99.03 662.71L100.53 662.86L102.03 663.18L103.53 663.63L105.03 664.16L106.53 664.71L108.03 665.24L109.53 665.67L111.03 665.97L112.53 666.1L114.03 666.04L115.53 665.82L117.03 665.44" fill="none" stroke="#000" stroke-width="1.3"/></g>
<rect x="113.88" y="588.86" width="14.35" height="66.64" fill="#fff"/>
<g clip-path="url(#c24)"><path d="M111.88 581.53L113.38 581.45L114.88 581.55L116.38 581.82L117.88 582.23L119.38 582.74L120.88 583.3L122.38 583.84L123.88 584.3L125.38 584.64L126.88 584.83L128.38 584.83L129.88 584.65L131.38 584.32M111.88 586.2L113.38 586.12L114.88 586.22L116.38 586.49L117.88 586.9L119.38 587.41L120.88 587.97L122.38 588.51L123.88 588.97L125.38 589.31L126.88 589.5L128.38 589.5L129.88 589.32L131.38 588.99M111.88 590.87L113.38 590.79L114.88 590.89L116.38 591.16L117.88 591.57L119.38 592.08L120.88 592.64L122.38 593.18L123.88 593.64L125.38 593.98L126.88 594.17L128.38 594.17L129.88 593.99L131.38 593.66M111.88 595.54L113.38 595.46L114.88 595.56L116.38 595.83L117.88 596.24L119.38 596.75L120.88 597.31L122.38 597.85L123.88 598.31L125.38 598.65L126.88 598.84L128.38 598.84L129.88 598.66L131.38 598.33M111.88 600.21L113.38 600.13L114.88 600.23L116.38 600.5L117.88 600.91L119.38 601.42L120.88 601.98L122.38 602.52L123.88 602.98L125.38 603.32L126.88 603.51L128.38 603.51L129.88 603.33L131.38 603M111.88 604.88L113.38 604.8L114.88 604.9L116.38 605.17L117.88 605.58L119.38 606.09L120.88 606.65L122.38 607.19L123.88 607.65L125.38 607.99L126.88 608.18L128.38 608.18L129.88 608L131.38 607.67M111.88 609.55L113.38 609.47L114.88 609.57L116.38 609.84L117.88 610.25L119.38 610.76L120.88 611.32L122.38 611.86L123.88 612.32L125.38 612.66L126.88 612.85L128.38 612.85L129.88 612.67L131.38 612.34M111.88 614.22L113.38 614.14L114.88 614.24L116.38 614.51L117.88 614.92L119.38 615.43L120.88 615.99L122.38 616.53L123.88 616.99L125.38 617.33L126.88 617.52L128.38 617.52L129.88 617.34L131.38 617.01M111.88 618.89L113.38 618.81L114.88 618.91L116.38 619.18L117.88 619.59L119.38 620.1L120.88 620.66L122.38 621.2L123.88 621.66L125.38 622L126.88 622.19L128.38 622.19L129.88 622.01L131.38 621.68M111.88 623.56L113.38 623.48L114.88 623.58L116.38 623.85L117.88 624.26L119.38 624.77L120.88 625.33L122.38 625.87L123.88 626.33L125.38 626.67L126.88 626.86L128.38 626.86L129.88 626.68L131.38 626.35M111.88 628.23L113.38 628.15L114.88 628.25L116.38 628.52L117.88 628.93L119.38 629.44L120.88 630L122.38 630.54L123.88 631L125.38 631.34L126.88 631.53L128.38 631.53L129.88 631.35L131.38 631.02M111.88 632.9L113.38 632.82L114.88 632.92L116.38 633.19L117.88 633.6L119.38 634.11L120.88 634.67L122.38 635.21L123.88 635.67L125.38 636.01L126.88 636.2L128.38 636.2L129.88 636.02L131.38 635.69M111.88 637.57L113.38 637.49L114.88 637.59L116.38 637.86L117.88 638.27L119.38 638.78L120.88 639.34L122.38 639.88L123.88 640.34L125.38 640.68L126.88 640.87L128.38 640.87L129.88 640.69L131.38 640.36M111.88 642.24L113.38 642.16L114.88 642.26L116.38 642.53L117.88 642.94L119.38 643.45L120.88 644.01L122.38 644.55L123.88 645.01L125.38 645.35L126.88 645.54L128.38 645.54L129.88 645.36L131.38 645.03M111.88 646.91L113.38 646.83L114.88 646.93L116.38 647.2L117.88 647.61L119.38 648.12L120.88 648.68L122.38 649.22L123.88 649.68L125.38 650.02L126.88 650.21L128.38 650.21L129.88 650.03L131.38 649.7M111.88 651.58L113.38 651.5L114.88 651.6L116.38 651.87L117.88 652.28L119.38 652.79L120.88 653.35L122.38 653.89L123.88 654.35L125.38 654.69L126.88 654.88L128.38 654.88L129.88 654.7L131.38 654.37M111.88 656.25L113.38 656.17L114.88 656.27L116.38 656.54L117.88 656.95L119.38 657.46L120.88 658.02L122.38 658.56L123.88 659.02L125.38 659.36L126.88 659.55L128.38 659.55L129.88 659.37L131.38 659.04M111.88 660.92L113.38 660.84L114.88 660.94L116.38 661.21L117.88 661.62L119.38 662.13L120.88 662.69L122.38 663.23L123.88 663.69L125.38 664.03L126.88 664.22L128.38 664.22L129.88 664.04L131.38 663.71" fill="none" stroke="#000" stroke-width="1.3"/></g>
<rect x="128.22" y="572.2" width="14.35" height="83.3" fill="#fff"/>
<g clip-path="url(#c25)"><path d="M126.22 565.05L127.72 564.51L129.22 563.96L130.72 563.46L132.22 563.07L133.72 562.84L135.22 562.77L136.72 562.89L138.22 563.18L139.72 563.6L141.22 564.12L142.72 564.67L144.22 565.21L145.72 565.66M126.22 569.72L127.72 569.18L129.22 568.63L130.72 568.13L132.22 567.74L133.72 567.51L135.22 567.44L136.72 567.56L138.22 567.85L139.72 568.27L141.22 568.79L142.72 569.34L144.22 569.88L145.72 570.33M126.22 574.39L127.72 573.85L129.22 573.3L130.72 572.8L132.22 572.41L133.72 572.18L135.22 572.11L136.72 572.23L138.22 572.52L139.72 572.94L141.22 573.46L142.72 574.01L144.22 574.55L145.72 575M126.22 579.06L127.72 578.52L129.22 577.97L130.72 577.47L132.22 577.08L133.72 576.85L135.22 576.78L136.72 576.9L138.22 577.19L139.72 577.61L141.22 578.13L142.72 578.68L144.22 579.22L145.72 579.67M126.22 583.73L127.72 583.19L129.22 582.64L130.72 582.14L132.22 581.75L133.72 581.52L135.22 581.45L136.72 581.57L138.22 581.86L139.72 582.28L141.22 582.8L142.72 583.35L144.22 583.89L145.72 584.34M126.22 588.4L127.72 587.86L129.22 587.31L130.72 586.81L132.22 586.42L133.72 586.19L135.22 586.12L136.72 586.24L138.22 586.53L139.72 586.95L141.22 587.47L142.72 588.02L144.22 588.56L145.72 589.01M126.22 593.07L127.72 592.53L129.22 591.98L130.72 591.48L132.22 591.09L133.72 590.86L135.22 590.79L136.72 590.91L138.22 591.2L139.72 591.62L141.22 592.14L142.72 592.69L144.22 593.23L145.72 593.68M126.22 597.74L127.72 597.2L129.22 596.65L130.72 596.15L132.22 595.76L133.72 595.53L135.22 595.46L136.72 595.58L138.22 595.87L139.72 596.29L141.22 596.81L142.72 597.36L144.22 597.9L145.72 598.35M126.22 602.41L127.72 601.87L129.22 601.32L130.72 600.82L132.22 600.43L133.72 600.2L135.22 600.13L136.72 600.25L138.22 600.54L139.72 600.96L141.22 601.48L142.72 602.03L144.22 602.57L145.72 603.02M126.22 607.08L127.72 606.54L129.22 605.99L130.72 605.49L132.22 605.1L133.72 604.87L135.22 604.8L136.72 604.92L138.22 605.21L139.72 605.63L141.22 606.15L142.72 606.7L144.22 607.24L145.72 607.69M126.22 611.75L127.72 611.21L129.22 610.66L130.72 610.16L132.22 609.77L133.72 609.54L135.22 609.47L136.72 609.59L138.22 609.88L139.72 610.3L141.22 610.82L142.72 611.37L144.22 611.91L145.72 612.36M126.22 616.42L127.72 615.88L129.22 615.33L130.72 614.83L132.22 614.44L133.72 614.21L135.22 614.14L136.72 614.26L138.22 614.55L139.72 614.97L141.22 615.49L142.72 616.04L144.22 616.58L145.72 617.03M126.22 621.09L127.72 620.55L129.22 620L130.72 619.5L132.22 619.11L133.72 618.88L135.22 618.81L136.72 618.93L138.22 619.22L139.72 619.64L141.22 620.16L142.72 620.71L144.22 621.25L145.72 621.7M126.22 625.76L127.72 625.22L129.22 624.67L130.72 624.17L132.22 623.78L133.72 623.55L135.22 623.48L136.72 623.6L138.22 623.89L139.72 624.31L141.22 624.83L142.72 625.38L144.22 625.92L145.72 626.37M126.22 630.43L127.72 629.89L129.22 629.34L130.72 628.84L132.22 628.45L133.72 628.22L135.22 628.15L136.72 628.27L138.22 628.56L139.72 628.98L141.22 629.5L142.72 630.05L144.22 630.59L145.72 631.04M126.22 635.1L127.72 634.56L129.22 634.01L130.72 633.51L132.22 633.12L133.72 632.89L135.22 632.82L136.72 632.94L138.22 633.23L139.72 633.65L141.22 634.17L142.72 634.72L144.22 635.26L145.72 635.71M126.22 639.77L127.72 639.23L129.22 638.68L130.72 638.18L132.22 637.79L133.72 637.56L135.22 637.49L136.72 637.61L138.22 637.9L139.72 638.32L141.22 638.84L142.72 639.39L144.22 639.93L145.72 640.38M126.22 644.44L127.72 643.9L129.22 643.35L130.72 642.85L132.22 642.46L133.72 642.23L135.22 642.16L136.72 642.28L138.22 642.57L139.72 642.99L141.22 643.51L142.72 644.06L144.22 644.6L145.72 645.05M126.22 649.11L127.72 648.57L129.22 648.02L130.72 647.52L132.22 647.13L133.72 646.9L135.22 646.83L136.72 646.95L138.22 647.24L139.72 647.66L141.22 648.18L142.72 648.73L144.22 649.27L145.72 649.72M126.22 653.78L127.72 653.24L129.22 652.69L130.72 652.19L132.22 651.8L133.72 651.57L135.22 651.5L136.72 651.62L138.22 651.91L139.72 652.33L141.22 652.85L142.72 653.4L144.22 653.94L145.72 654.39M126.22 658.45L127.72 657.91L129.22 657.36L130.72 656.86L132.22 656.47L133.72 656.24L135.22 656.17L136.72 656.29L138.22 656.58L139.72 657L141.22 657.52L142.72 658.07L144.22 658.61L145.72 659.06M126.22 663.12L127.72 662.58L129.22 662.03L130.72 661.53L132.22 661.14L133.72 660.91L135.22 660.84L136.72 660.96L138.22 661.25L139.72 661.67L141.22 662.19L142.72 662.74L144.22 663.28L145.72 663.73" fill="none" stroke="#000" stroke-width="1.3"/></g>
<rect x="142.57" y="505.56" width="14.35" height="149.94" fill="#fff"/>
<g clip-path="url(#c26)"><path d="M140.57 496.05L142.07 496.6L143.57 497.15L145.07 497.64L146.57 498.02L148.07 498.24L149.57 498.3L151.07 498.17L152.57 497.87L154.07 497.44L155.57 496.91L157.07 496.36L158.57 495.83L160.07 495.38M140.57 501.45L142.07 502L143.57 502.55L145.07 503.04L146.57 503.42L148.07 503.64L149.57 503.7L151.07 503.57L152.57 503.27L154.07 502.84L155.57 502.31L157.07 501.76L158.57 501.23L160.07 500.78M140.57 506.85L142.07 507.4L143.57 507.95L145.07 508.44L146.57 508.82L148.07 509.04L149.57 509.1L151.07 508.97L152.57 508.67L154.07 508.24L155.57 507.71L157.07 507.16L158.57 506.63L160.07 506.18M140.57 512.25L142.07 512.8L143.57 513.35L145.07 513.84L146.57 514.22L148.07 514.44L149.57 514.5L151.07 514.37L152.57 514.07L154.07 513.64L155.57 513.11L157.07 512.56L158.57 512.03L160.07 511.58M140.57 517.65L142.07 518.2L143.57 518.75L145.07 519.24L146.57 519.62L148.07 519.84L149.57 519.9L151.07 519.77L152.57 519.47L154.07 519.04L155.57 518.51L157.07 517.96L158.57 517.43L160.07 516.98M140.57 523.05L142.07 523.6L143.57 524.15L145.07 524.64L146.57 525.02L148.07 525.24L149.57 525.3L151.07 525.17L152.57 524.87L154.07 524.44L155.57 523.91L157.07 523.36L158.57 522.83L160.07 522.38M140.57 528.45L142.07 529L143.57 529.55L145.07 530.04L146.57 530.42L148.07 530.64L149.57 530.7L151.07 530.57L152.57 530.27L154.07 529.84L155.57 529.31L157.07 528.76L158.57 528.23L160.07 527.78M140.57 533.85L142.07 534.4L143.57 534.95L145.07 535.44L146.57 535.82L148.07 536.04L149.57 536.1L151.07 535.97L152.57 535.67L154.07 535.24L155.57 534.71L157.07 534.16L158.57 533.63L160.07 533.18M140.57 539.25L142.07 539.8L143.57 540.35L145.07 540.84L146.57 541.22L148.07 541.44L149.57 541.5L151.07 541.37L152.57 541.07L154.07 540.64L155.57 540.11L157.07 539.56L158.57 539.03L160.07 538.58M140.57 544.65L142.07 545.2L143.57 545.75L145.07 546.24L146.57 546.62L148.07 546.84L149.57 546.9L151.07 546.77L152.57 546.47L154.07 546.04L155.57 545.51L157.07 544.96L158.57 544.43L160.07 543.98M140.57 550.05L142.07 550.6L143.57 551.15L145.07 551.64L146.57 552.02L148.07 552.24L149.57 552.3L151.07 552.17L152.57 551.87L154.07 551.44L155.57 550.91L157.07 550.36L158.57 549.83L160.07 549.38M140.57 555.45L142.07 556L143.57 556.55L145.07 557.04L146.57 557.42L148.07 557.64L149.57 557.7L151.07 557.57L152.57 557.27L154.07 556.84L155.57 556.31L157.07 555.76L158.57 555.23L160.07 554.78M140.57 560.85L142.07 561.4L143.57 561.95L145.07 562.44L146.57 562.82L148.07 563.04L149.57 563.1L151.07 562.97L152.57 562.67L154.07 562.24L155.57 561.71L157.07 561.16L158.57 560.63L160.07 560.18M140.57 566.25L142.07 566.8L143.57 567.35L145.07 567.84L146.57 568.22L148.07 568.44L149.57 568.5L151.07 568.37L152.57 568.07L154.07 567.64L155.57 567.11L157.07 566.56L158.57 566.03L160.07 565.58M140.57 571.65L142.07 572.2L143.57 572.75L145.07 573.24L146.57 573.62L148.07 573.84L149.57 573.9L151.07 573.77L152.57 573.47L154.07 573.04L155.57 572.51L157.07 571.96L158.57 571.43L160.07 570.98M140.57 577.05L142.07 577.6L143.57 578.15L145.07 578.64L146.57 579.02L148.07 579.24L149.57 579.3L151.07 579.17L152.57 578.87L154.07 578.44L155.57 577.91L157.07 577.36L158.57 576.83L160.07 576.38M140.57 582.45L142.07 583L143.57 583.55L145.07 584.04L146.57 584.42L148.07 584.64L149.57 584.7L151.07 584.57L152.57 584.27L154.07 583.84L155.57 583.31L157.07 582.76L158.57 582.23L160.07 581.78M140.57 587.85L142.07 588.4L143.57 588.95L145.07 589.44L146.57 589.82L148.07 590.04L149.57 590.1L151.07 589.97L152.57 589.67L154.07 589.24L155.57 588.71L157.07 588.16L158.57 587.63L160.07 587.18M140.57 593.25L142.07 593.8L143.57 594.35L145.07 594.84L146.57 595.22L148.07 595.44L149.57 595.5L151.07 595.37L152.57 595.07L154.07 594.64L155.57 594.11L157.07 593.56L158.57 593.03L160.07 592.58M140.57 598.65L142.07 599.2L143.57 599.75L145.07 600.24L146.57 600.62L148.07 600.84L149.57 600.9L151.07 600.77L152.57 600.47L154.07 600.04L155.57 599.51L157.07 598.96L158.57 598.43L160.07 597.98M140.57 604.05L142.07 604.6L143.57 605.15L145.07 605.64L146.57 606.02L148.07 606.24L149.57 606.3L151.07 606.17L152.57 605.87L154.07 605.44L155.57 604.91L157.07 604.36L158.57 603.83L160.07 603.38M140.57 609.45L142.07 610L143.57 610.55L145.07 611.04L146.57 611.42L148.07 611.64L149.57 611.7L151.07 611.57L152.57 611.27L154.07 610.84L155.57 610.31L157.07 609.76L158.57 609.23L160.07 608.78M140.57 614.85L142.07 615.4L143.57 615.95L145.07 616.44L146.57 616.82L148.07 617.04L149.57 617.1L151.07 616.97L152.57 616.67L154.07 616.24L155.57 615.71L157.07 615.16L158.57 614.63L160.07 614.18M140.57 620.25L142.07 620.8L143.57 621.35L145.07 621.84L146.57 622.22L148.07 622.44L149.57 622.5L151.07 622.37L152.57 622.07L154.07 621.64L155.57 621.11L157.07 620.56L158.57 620.03L160.07 619.58M140.57 625.65L142.07 626.2L143.57 626.75L145.07 627.24L146.57 627.62L148.07 627.84L149.57 627.9L151.07 627.77L152.57 627.47L154.07 627.04L155.57 626.51L157.07 625.96L158.57 625.43L160.07 624.98M140.57 631.05L142.07 631.6L143.57 632.15L145.07 632.64L146.57 633.02L148.07 633.24L149.57 633.3L151.07 633.17L152.57 632.87L154.07 632.44L155.57 631.91L157.07 631.36L158.57 630.83L160.07 630.38M140.57 636.45L142.07 637L143.57 637.55L145.07 638.04L146.57 638.42L148.07 638.64L149.57 638.7L151.07 638.57L152.57 638.27L154.07 637.84L155.57 637.31L157.07 636.76L158.57 636.23L160.07 635.78M140.57 641.85L142.07 642.4L143.57 642.95L145.07 643.44L146.57 643.82L148.07 644.04L149.57 644.1L151.07 643.97L152.57 643.67L154.07 643.24L155.57 642.71L157.07 642.16L158.57 641.63L160.07 641.18M140.57 647.25L142.07 647.8L143.57 648.35L145.07 648.84L146.57 649.22L148.07 649.44L149.57 649.5L151.07 649.37L152.57 649.07L154.07 648.64L155.57 648.11L157.07 647.56L158.57 647.03L160.07 646.58M140.57 652.65L142.07 653.2L143.57 653.75L145.07 654.24L146.57 654.62L148.07 654.84L149.57 654.9L151.07 654.77L152.57 654.47L154.07 654.04L155.57 653.51L157.07 652.96L158.57 652.43L160.07 651.98M140.57 658.05L142.07 658.6L143.57 659.15L145.07 659.64L146.57 660.02L148.07 660.24L149.57 660.3L151.07 660.17L152.57 659.87L154.07 659.44L155.57 658.91L157.07 658.36L158.57 657.83L160.07 657.38M140.57 663.45L142.07 664L143.57 664.55L145.07 665.04L146.57 665.42L148.07 665.64L149.57 665.7L151.07 665.57L152.57 665.27L154.07 664.84L155.57 664.31L157.07 663.76L158.57 663.23L160.07 662.78" fill="none" stroke="#000" stroke-width="1.3"/></g>
<rect x="185.62" y="605.52" width="14.35" height="49.98" fill="#fff"/>
<g clip-path="url(#c27)"><path d="M183.62 596.42L185.12 596.96L186.62 597.51L188.12 598.03L189.62 598.45L191.12 598.74L192.62 598.86L194.12 598.79L195.62 598.56L197.12 598.17L198.62 597.67L200.12 597.12L201.62 596.58L203.12 596.09M183.62 601.09L185.12 601.63L186.62 602.18L188.12 602.7L189.62 603.12L191.12 603.41L192.62 603.53L194.12 603.46L195.62 603.23L197.12 602.84L198.62 602.34L200.12 601.79L201.62 601.25L203.12 600.76M183.62 605.76L185.12 606.3L186.62 606.85L188.12 607.37L189.62 607.79L191.12 608.08L192.62 608.2L194.12 608.13L195.62 607.9L197.12 607.51L198.62 607.01L200.12 606.46L201.62 605.92L203.12 605.43M183.62 610.43L185.12 610.97L186.62 611.52L188.12 612.04L189.62 612.46L191.12 612.75L192.62 612.87L194.12 612.8L195.62 612.57L197.12 612.18L198.62 611.68L200.12 611.13L201.62 610.59L203.12 610.1M183.62 615.1L185.12 615.64L186.62 616.19L188.12 616.71L189.62 617.13L191.12 617.42L192.62 617.54L194.12 617.47L195.62 617.24L197.12 616.85L198.62 616.35L200.12 615.8L201.62 615.26L203.12 614.77M183.62 619.77L185.12 620.31L186.62 620.86L188.12 621.38L189.62 621.8L191.12 622.09L192.62 622.21L194.12 622.14L195.62 621.91L197.12 621.52L198.62 621.02L200.12 620.47L201.62 619.93L203.12 619.44M183.62 624.44L185.12 624.98L186.62 625.53L188.12 626.05L189.62 626.47L191.12 626.76L192.62 626.88L194.12 626.81L195.62 626.58L197.12 626.19L198.62 625.69L200.12 625.14L201.62 624.6L203.12 624.11M183.62 629.11L185.12 629.65L186.62 630.2L188.12 630.72L189.62 631.14L191.12 631.43L192.62 631.55L194.12 631.48L195.62 631.25L197.12 630.86L198.62 630.36L200.12 629.81L201.62 629.27L203.12 628.78M183.62 633.78L185.12 634.32L186.62 634.87L188.12 635.39L189.62 635.81L191.12 636.1L192.62 636.22L194.12 636.15L195.62 635.92L197.12 635.53L198.62 635.03L200.12 634.48L201.62 633.94L203.12 633.45M183.62 638.45L185.12 638.99L186.62 639.54L188.12 640.06L189.62 640.48L191.12 640.77L192.62 640.89L194.12 640.82L195.62 640.59L197.12 640.2L198.62 639.7L200.12 639.15L201.62 638.61L203.12 638.12M183.62 643.12L185.12 643.66L186.62 644.21L188.12 644.73L189.62 645.15L191.12 645.44L192.62 645.56L194.12 645.49L195.62 645.26L197.12 644.87L198.62 644.37L200.12 643.82L201.62 643.28L203.12 642.79M183.62 647.79L185.12 648.33L186.62 648.88L188.12 649.4L189.62 649.82L191.12 650.11L192.62 650.23L194.12 650.16L195.62 649.93L197.12 649.54L198.62 649.04L200.12 648.49L201.62 647.95L203.12 647.46M183.62 652.46L185.12 653L186.62 653.55L188.12 654.07L189.62 654.49L191.12 654.78L192.62 654.9L194.12 654.83L195.62 654.6L197.12 654.21L198.62 653.71L200.12 653.16L201.62 652.62L203.12 652.13M183.62 657.13L185.12 657.67L186.62 658.22L188.12 658.74L189.62 659.16L191.12 659.45L192.62 659.57L194.12 659.5L195.62 659.27L197.12 658.88L198.62 658.38L200.12 657.83L201.62 657.29L203.12 656.8M183.62 661.8L185.12 662.34L186.62 662.89L188.12 663.41L189.62 663.83L191.12 664.12L192.62 664.24L194.12 664.17L195.62 663.94L197.12 663.55L198.62 663.05L200.12 662.5L201.62 661.96L203.12 661.47" fill="none" stroke="#000" stroke-width="1.3"/></g>
<rect x="42.12" y="622.18" width="14.35" height="33.32" fill="none" stroke="#222" stroke-width="1.1"/>
<rect x="56.48" y="622.18" width="14.35" height="33.32" fill="none" stroke="#222" stroke-width="1.1"/>
<rect x="70.82" y="638.84" width="14.35" height="16.66" fill="none" stroke="#222" stroke-width="1.1"/>
<rect x="85.18" y="588.86" width="14.35" height="66.64" fill="none" stroke="#222" stroke-width="1.1"/>
<rect x="99.53" y="522.22" width="14.35" height="133.28" fill="none" stroke="#222" stroke-width="1.1"/>
<rect x="113.88" y="588.86" width="14.35" height="66.64" fill="none" stroke="#222" stroke-width="1.1"/>
<rect x="128.22" y="572.2" width="14.35" height="83.3" fill="none" stroke="#222" stroke-width="1.1"/>
<rect x="142.57" y="505.56" width="14.35" height="149.94" fill="none" stroke="#222" stroke-width="1.1"/>
<rect x="185.62" y="605.52" width="14.35" height="49.98" fill="none" stroke="#222" stroke-width="1.1"/>
<rect x="142.57" y="605.52" width="14.35" height="49.98" fill="#aaaaaa" stroke="#3a3a3a" stroke-width="1"/>
<rect x="156.92" y="638.84" width="14.35" height="16.66" fill="#aaaaaa" stroke="#3a3a3a" stroke-width="1"/>
<rect x="171.28" y="622.18" width="14.35" height="33.32" fill="#aaaaaa" stroke="#3a3a3a" stroke-width="1"/>
<rect x="185.62" y="622.18" width="14.35" height="33.32" fill="#aaaaaa" stroke="#3a3a3a" stroke-width="1"/>
<rect x="199.97" y="638.84" width="14.35" height="16.66" fill="#aaaaaa" stroke="#3a3a3a" stroke-width="1"/>
<rect x="214.33" y="638.84" width="14.35" height="16.66" fill="#aaaaaa" stroke="#3a3a3a" stroke-width="1"/>
<rect x="228.67" y="572.2" width="14.35" height="83.3" fill="#aaaaaa" stroke="#3a3a3a" stroke-width="1"/>
<rect x="243.03" y="538.88" width="14.35" height="116.62" fill="#aaaaaa" stroke="#3a3a3a" stroke-width="1"/>
<rect x="257.38" y="572.2" width="14.35" height="83.3" fill="#aaaaaa" stroke="#3a3a3a" stroke-width="1"/>
<rect x="271.73" y="538.88" width="14.35" height="116.62" fill="#aaaaaa" stroke="#3a3a3a" stroke-width="1"/>
<rect x="286.08" y="522.22" width="14.35" height="133.28" fill="#aaaaaa" stroke="#3a3a3a" stroke-width="1"/>
<rect x="300.43" y="622.18" width="14.35" height="33.32" fill="#aaaaaa" stroke="#3a3a3a" stroke-width="1"/>
<rect x="20.6" y="405.6" width="344.4" height="249.9" fill="none" stroke="#4a4a4a" stroke-width="1.05"/>
<line x1="20.6" y1="572.2" x2="35.6" y2="572.2" stroke="#333" stroke-width="1.1"/>
<text transform="translate(18.8 582.1) scale(1 1.17)" x="0" y="0" font-size="19.8" text-anchor="end">5</text>
<line x1="20.6" y1="488.9" x2="35.6" y2="488.9" stroke="#333" stroke-width="1.1"/>
<text transform="translate(18.8 498.3) scale(1 1.17)" x="0" y="0" font-size="19.8" text-anchor="end">10</text>
<line x1="20.6" y1="405.6" x2="35.6" y2="405.6" stroke="#333" stroke-width="1.1"/>
<text transform="translate(18.8 414.5) scale(1 1.17)" x="0" y="0" font-size="19.8" text-anchor="end">15</text>
<text transform="translate(18.8 665.8) scale(1 1.17)" x="0" y="0" font-size="19.8" text-anchor="end">0</text>
<path d="M20.6 652.63L22.04 652.37L23.47 652.09L24.91 651.78L26.34 651.46L27.78 651.11L29.21 650.74L30.65 650.34L32.08 649.91L33.52 649.46L34.95 648.97L36.39 648.45L37.82 647.9L39.26 647.32L40.69 646.71L42.12 646.05L43.56 645.36L44.99 644.63L46.43 643.86L47.87 643.05L49.3 642.2L50.73 641.31L52.17 640.37L53.6 639.39L55.04 638.37L56.48 637.3L57.91 636.19L59.34 635.03L60.78 633.82L62.21 632.57L63.65 631.27L65.08 629.93L66.52 628.55L67.96 627.12L69.39 625.64L70.82 624.13L72.26 622.58L73.69 620.99L75.13 619.36L76.56 617.69L78 616L79.44 614.27L80.87 612.52L82.31 610.74L83.74 608.94L85.18 607.12L86.61 605.28L88.04 603.43L89.48 601.58L90.91 599.72L92.35 597.86L93.78 596.01L95.22 594.16L96.66 592.33L98.09 590.51L99.53 588.72L100.96 586.95L102.39 585.22L103.83 583.52L105.26 581.86L106.7 580.25L108.13 578.69L109.57 577.18L111 575.73L112.44 574.34L113.88 573.02L115.31 571.78L116.75 570.61L118.18 569.52L119.61 568.51L121.05 567.58L122.49 566.75L123.92 566.01L125.35 565.36L126.79 564.81L128.22 564.35L129.66 564L131.09 563.74L132.53 563.59L133.97 563.54L135.4 563.59L136.84 563.74L138.27 564L139.7 564.35L141.14 564.81L142.57 565.36L144.01 566.01L145.44 566.75L146.88 567.58L148.31 568.51L149.75 569.52L151.19 570.61L152.62 571.78L154.05 573.02L155.49 574.34L156.92 575.73L158.36 577.18L159.79 578.69L161.23 580.25L162.66 581.86L164.1 583.52L165.53 585.22L166.97 586.95L168.41 588.72L169.84 590.51L171.28 592.33L172.71 594.16L174.15 596.01L175.58 597.86L177.01 599.72L178.45 601.58L179.88 603.43L181.32 605.28L182.75 607.12L184.19 608.94L185.62 610.74L187.06 612.52L188.5 614.27L189.93 616L191.36 617.69L192.8 619.36L194.23 620.99L195.67 622.58L197.1 624.13L198.54 625.64L199.97 627.12L201.41 628.55L202.84 629.93L204.28 631.27L205.71 632.57L207.15 633.82L208.58 635.03L210.02 636.19L211.45 637.3L212.89 638.37L214.33 639.39L215.76 640.37L217.2 641.31L218.63 642.2L220.06 643.05L221.5 643.86L222.93 644.63L224.37 645.36L225.8 646.05L227.24 646.71L228.67 647.32L230.11 647.9L231.54 648.45L232.98 648.97L234.41 649.46L235.85 649.91L237.28 650.34L238.72 650.74L240.16 651.11L241.59 651.46L243.03 651.78L244.46 652.09L245.9 652.37L247.33 652.63L248.76 652.87L250.2 653.1L251.63 653.31L253.07 653.5L254.5 653.68L255.94 653.84L257.38 653.99L258.81 654.13L260.25 654.25L261.68 654.37L263.12 654.48L264.55 654.58L265.99 654.67L267.42 654.75L268.86 654.82L270.29 654.89L271.73 654.95L273.16 655.01L274.6 655.06L276.03 655.1L277.46 655.14L278.9 655.18L280.33 655.22L281.77 655.25L283.2 655.27L284.64 655.3L286.08 655.32L287.51 655.34L288.95 655.36L290.38 655.37L291.81 655.39L293.25 655.4L294.69 655.41L296.12 655.42L297.56 655.43L298.99 655.44L300.43 655.45L301.86 655.45L303.29 655.46L304.73 655.46L306.16 655.47L307.6 655.47L309.03 655.48L310.47 655.48L311.9 655.48L313.34 655.48L314.77 655.49L316.21 655.49L317.64 655.49L319.08 655.49L320.51 655.49L321.95 655.49L323.38 655.49L324.82 655.5L326.25 655.5L327.69 655.5L329.12 655.5L330.56 655.5L332 655.5L333.43 655.5L334.87 655.5L336.3 655.5L337.74 655.5L339.17 655.5L340.6 655.5L342.04 655.5L343.48 655.5L344.91 655.5L346.35 655.5L347.78 655.5L349.22 655.5L350.65 655.5L352.09 655.5L353.52 655.5L354.95 655.5L356.39 655.5L357.83 655.5L359.26 655.5L360.69 655.5L362.13 655.5L363.57 655.5L365 655.5" fill="none" stroke="#000" stroke-width="2.4" stroke-dasharray="13 4.5"/>
<path d="M20.6 655.5L22.04 655.5L23.47 655.5L24.91 655.5L26.34 655.5L27.78 655.5L29.21 655.5L30.65 655.5L32.08 655.5L33.52 655.5L34.95 655.5L36.39 655.5L37.82 655.5L39.26 655.5L40.69 655.5L42.12 655.5L43.56 655.5L44.99 655.5L46.43 655.5L47.87 655.5L49.3 655.5L50.73 655.5L52.17 655.5L53.6 655.5L55.04 655.5L56.48 655.5L57.91 655.5L59.34 655.5L60.78 655.49L62.21 655.49L63.65 655.49L65.08 655.49L66.52 655.49L67.96 655.49L69.39 655.49L70.82 655.49L72.26 655.48L73.69 655.48L75.13 655.48L76.56 655.47L78 655.47L79.44 655.47L80.87 655.46L82.31 655.46L83.74 655.45L85.18 655.44L86.61 655.44L88.04 655.43L89.48 655.42L90.91 655.41L92.35 655.39L93.78 655.38L95.22 655.37L96.66 655.35L98.09 655.33L99.53 655.31L100.96 655.28L102.39 655.26L103.83 655.23L105.26 655.2L106.7 655.16L108.13 655.12L109.57 655.08L111 655.03L112.44 654.97L113.88 654.91L115.31 654.85L116.75 654.78L118.18 654.7L119.61 654.61L121.05 654.52L122.49 654.41L123.92 654.3L125.35 654.17L126.79 654.04L128.22 653.89L129.66 653.73L131.09 653.56L132.53 653.37L133.97 653.17L135.4 652.95L136.84 652.71L138.27 652.46L139.7 652.18L141.14 651.89L142.57 651.57L144.01 651.22L145.44 650.86L146.88 650.46L148.31 650.04L149.75 649.6L151.19 649.12L152.62 648.61L154.05 648.07L155.49 647.49L156.92 646.88L158.36 646.23L159.79 645.55L161.23 644.83L162.66 644.07L164.1 643.26L165.53 642.42L166.97 641.53L168.41 640.6L169.84 639.62L171.28 638.6L172.71 637.53L174.15 636.42L175.58 635.26L177.01 634.06L178.45 632.8L179.88 631.5L181.32 630.16L182.75 628.77L184.19 627.33L185.62 625.85L187.06 624.33L188.5 622.76L189.93 621.15L191.36 619.51L192.8 617.83L194.23 616.11L195.67 614.36L197.1 612.58L198.54 610.78L199.97 608.95L201.41 607.1L202.84 605.23L204.28 603.34L205.71 601.45L207.15 599.55L208.58 597.65L210.02 595.75L211.45 593.85L212.89 591.97L214.33 590.1L215.76 588.25L217.2 586.42L218.63 584.63L220.06 582.86L221.5 581.14L222.93 579.46L224.37 577.83L225.8 576.25L227.24 574.73L228.67 573.27L230.11 571.88L231.54 570.56L232.98 569.32L234.41 568.15L235.85 567.07L237.28 566.07L238.72 565.16L240.16 564.34L241.59 563.62L243.03 563L244.46 562.47L245.9 562.05L247.33 561.72L248.76 561.5L250.2 561.39L251.63 561.38L253.07 561.47L254.5 561.67L255.94 561.97L257.38 562.38L258.81 562.88L260.25 563.49L261.68 564.19L263.12 564.99L264.55 565.88L265.99 566.86L267.42 567.93L268.86 569.08L270.29 570.31L271.73 571.61L273.16 572.99L274.6 574.44L276.03 575.94L277.46 577.51L278.9 579.13L280.33 580.8L281.77 582.52L283.2 584.27L284.64 586.06L286.08 587.88L287.51 589.72L288.95 591.59L290.38 593.47L291.81 595.37L293.25 597.27L294.69 599.17L296.12 601.07L297.56 602.97L298.99 604.85L300.43 606.72L301.86 608.58L303.29 610.41L304.73 612.22L306.16 614.01L307.6 615.76L309.03 617.49L310.47 619.18L311.9 620.83L313.34 622.44L314.77 624.02L316.21 625.55L317.64 627.04L319.08 628.48L320.51 629.88L321.95 631.24L323.38 632.55L324.82 633.81L326.25 635.02L327.69 636.19L329.12 637.32L330.56 638.39L332 639.42L333.43 640.41L334.87 641.35L336.3 642.24L337.74 643.1L339.17 643.91L340.6 644.68L342.04 645.41L343.48 646.1L344.91 646.76L346.35 647.37L347.78 647.95L349.22 648.5L350.65 649.02L352.09 649.5L353.52 649.96L354.95 650.38L356.39 650.78L357.83 651.15L359.26 651.5L360.69 651.82L362.13 652.12L363.57 652.4L365 652.66" fill="none" stroke="#000" stroke-width="2.4"/>
<text x="20.3" y="675.8" font-size="21" text-anchor="middle" fill="#000">,0</text>
<text x="77.7" y="675.8" font-size="21" text-anchor="middle" fill="#000">,2</text>
<text x="135.1" y="675.8" font-size="21" text-anchor="middle" fill="#000">,4</text>
<text x="192.5" y="675.8" font-size="21" text-anchor="middle" fill="#000">,6</text>
<text x="249.9" y="675.8" font-size="21" text-anchor="middle" fill="#000">,8</text>
<text x="307.3" y="675.8" font-size="21" text-anchor="middle" fill="#000">1,0</text>
<text x="364.7" y="675.8" font-size="21" text-anchor="middle" fill="#000">1,2</text>
<text x="443.7" y="397.2" font-size="21.5" text-anchor="start" fill="#000" letter-spacing="0.35">(d) Histograms for Efficiency</text>
<line x1="467.97" y1="407.2" x2="467.97" y2="654.6" stroke="#999" stroke-width="1" stroke-dasharray="2 2.6"/>
<line x1="523.53" y1="407.2" x2="523.53" y2="654.6" stroke="#999" stroke-width="1" stroke-dasharray="2 2.6"/>
<line x1="579.1" y1="407.2" x2="579.1" y2="654.6" stroke="#999" stroke-width="1" stroke-dasharray="2 2.6"/>
<line x1="634.67" y1="407.2" x2="634.67" y2="654.6" stroke="#999" stroke-width="1" stroke-dasharray="2 2.6"/>
<line x1="690.23" y1="407.2" x2="690.23" y2="654.6" stroke="#999" stroke-width="1" stroke-dasharray="2 2.6"/>
<rect x="412.4" y="588.63" width="18.52" height="65.97" fill="#fff"/>
<g clip-path="url(#c28)"><path d="M410.4 583.92L411.9 583.41L413.4 582.92L414.9 582.48L416.4 582.12L417.9 581.86L419.4 581.72L420.9 581.71L422.4 581.83L423.9 582.06L425.4 582.4L426.9 582.83L428.4 583.31L429.9 583.82L431.4 584.31L432.9 584.77L434.4 585.16M410.4 588.82L411.9 588.31L413.4 587.82L414.9 587.38L416.4 587.02L417.9 586.76L419.4 586.62L420.9 586.61L422.4 586.73L423.9 586.96L425.4 587.3L426.9 587.73L428.4 588.21L429.9 588.72L431.4 589.21L432.9 589.67L434.4 590.06M410.4 593.72L411.9 593.21L413.4 592.72L414.9 592.28L416.4 591.92L417.9 591.66L419.4 591.52L420.9 591.51L422.4 591.63L423.9 591.86L425.4 592.2L426.9 592.63L428.4 593.11L429.9 593.62L431.4 594.11L432.9 594.57L434.4 594.96M410.4 598.62L411.9 598.11L413.4 597.62L414.9 597.18L416.4 596.82L417.9 596.56L419.4 596.42L420.9 596.41L422.4 596.53L423.9 596.76L425.4 597.1L426.9 597.53L428.4 598.01L429.9 598.52L431.4 599.01L432.9 599.47L434.4 599.86M410.4 603.52L411.9 603.01L413.4 602.52L414.9 602.08L416.4 601.72L417.9 601.46L419.4 601.32L420.9 601.31L422.4 601.43L423.9 601.66L425.4 602L426.9 602.43L428.4 602.91L429.9 603.42L431.4 603.91L432.9 604.37L434.4 604.76M410.4 608.42L411.9 607.91L413.4 607.42L414.9 606.98L416.4 606.62L417.9 606.36L419.4 606.22L420.9 606.21L422.4 606.33L423.9 606.56L425.4 606.9L426.9 607.33L428.4 607.81L429.9 608.32L431.4 608.81L432.9 609.27L434.4 609.66M410.4 613.32L411.9 612.81L413.4 612.32L414.9 611.88L416.4 611.52L417.9 611.26L419.4 611.12L420.9 611.11L422.4 611.23L423.9 611.46L425.4 611.8L426.9 612.23L428.4 612.71L429.9 613.22L431.4 613.71L432.9 614.17L434.4 614.56M410.4 618.22L411.9 617.71L413.4 617.22L414.9 616.78L416.4 616.42L417.9 616.16L419.4 616.02L420.9 616.01L422.4 616.13L423.9 616.36L425.4 616.7L426.9 617.13L428.4 617.61L429.9 618.12L431.4 618.61L432.9 619.07L434.4 619.46M410.4 623.12L411.9 622.61L413.4 622.12L414.9 621.68L416.4 621.32L417.9 621.06L419.4 620.92L420.9 620.91L422.4 621.03L423.9 621.26L425.4 621.6L426.9 622.03L428.4 622.51L429.9 623.02L431.4 623.51L432.9 623.97L434.4 624.36M410.4 628.02L411.9 627.51L413.4 627.02L414.9 626.58L416.4 626.22L417.9 625.96L419.4 625.82L420.9 625.81L422.4 625.93L423.9 626.16L425.4 626.5L426.9 626.93L428.4 627.41L429.9 627.92L431.4 628.41L432.9 628.87L434.4 629.26M410.4 632.92L411.9 632.41L413.4 631.92L414.9 631.48L416.4 631.12L417.9 630.86L419.4 630.72L420.9 630.71L422.4 630.83L423.9 631.06L425.4 631.4L426.9 631.83L428.4 632.31L429.9 632.82L431.4 633.31L432.9 633.77L434.4 634.16M410.4 637.82L411.9 637.31L413.4 636.82L414.9 636.38L416.4 636.02L417.9 635.76L419.4 635.62L420.9 635.61L422.4 635.73L423.9 635.96L425.4 636.3L426.9 636.73L428.4 637.21L429.9 637.72L431.4 638.21L432.9 638.67L434.4 639.06M410.4 642.72L411.9 642.21L413.4 641.72L414.9 641.28L416.4 640.92L417.9 640.66L419.4 640.52L420.9 640.51L422.4 640.63L423.9 640.86L425.4 641.2L426.9 641.63L428.4 642.11L429.9 642.62L431.4 643.11L432.9 643.57L434.4 643.96M410.4 647.62L411.9 647.11L413.4 646.62L414.9 646.18L416.4 645.82L417.9 645.56L419.4 645.42L420.9 645.41L422.4 645.53L423.9 645.76L425.4 646.1L426.9 646.53L428.4 647.01L429.9 647.52L431.4 648.01L432.9 648.47L434.4 648.86M410.4 652.52L411.9 652.01L413.4 651.52L414.9 651.08L416.4 650.72L417.9 650.46L419.4 650.32L420.9 650.31L422.4 650.43L423.9 650.66L425.4 651L426.9 651.43L428.4 651.91L429.9 652.42L431.4 652.91L432.9 653.37L434.4 653.76M410.4 657.42L411.9 656.91L413.4 656.42L414.9 655.98L416.4 655.62L417.9 655.36L419.4 655.22L420.9 655.21L422.4 655.33L423.9 655.56L425.4 655.9L426.9 656.33L428.4 656.81L429.9 657.32L431.4 657.81L432.9 658.27L434.4 658.66M410.4 662.32L411.9 661.81L413.4 661.32L414.9 660.88L416.4 660.52L417.9 660.26L419.4 660.12L420.9 660.11L422.4 660.23L423.9 660.46L425.4 660.8L426.9 661.23L428.4 661.71L429.9 662.22L431.4 662.71L432.9 663.17L434.4 663.56" fill="none" stroke="#000" stroke-width="1.25"/></g>
<rect x="430.92" y="588.63" width="18.52" height="65.97" fill="#fff"/>
<g clip-path="url(#c29)"><path d="M428.92 583.48L430.42 583.99L431.92 584.48L433.42 584.92L434.92 585.28L436.42 585.54L437.92 585.68L439.42 585.69L440.92 585.57L442.42 585.34L443.92 585L445.42 584.57L446.92 584.09L448.42 583.58L449.92 583.09L451.42 582.63L452.92 582.24M428.92 588.38L430.42 588.89L431.92 589.38L433.42 589.82L434.92 590.18L436.42 590.44L437.92 590.58L439.42 590.59L440.92 590.47L442.42 590.24L443.92 589.9L445.42 589.47L446.92 588.99L448.42 588.48L449.92 587.99L451.42 587.53L452.92 587.14M428.92 593.28L430.42 593.79L431.92 594.28L433.42 594.72L434.92 595.08L436.42 595.34L437.92 595.48L439.42 595.49L440.92 595.37L442.42 595.14L443.92 594.8L445.42 594.37L446.92 593.89L448.42 593.38L449.92 592.89L451.42 592.43L452.92 592.04M428.92 598.18L430.42 598.69L431.92 599.18L433.42 599.62L434.92 599.98L436.42 600.24L437.92 600.38L439.42 600.39L440.92 600.27L442.42 600.04L443.92 599.7L445.42 599.27L446.92 598.79L448.42 598.28L449.92 597.79L451.42 597.33L452.92 596.94M428.92 603.08L430.42 603.59L431.92 604.08L433.42 604.52L434.92 604.88L436.42 605.14L437.92 605.28L439.42 605.29L440.92 605.17L442.42 604.94L443.92 604.6L445.42 604.17L446.92 603.69L448.42 603.18L449.92 602.69L451.42 602.23L452.92 601.84M428.92 607.98L430.42 608.49L431.92 608.98L433.42 609.42L434.92 609.78L436.42 610.04L437.92 610.18L439.42 610.19L440.92 610.07L442.42 609.84L443.92 609.5L445.42 609.07L446.92 608.59L448.42 608.08L449.92 607.59L451.42 607.13L452.92 606.74M428.92 612.88L430.42 613.39L431.92 613.88L433.42 614.32L434.92 614.68L436.42 614.94L437.92 615.08L439.42 615.09L440.92 614.97L442.42 614.74L443.92 614.4L445.42 613.97L446.92 613.49L448.42 612.98L449.92 612.49L451.42 612.03L452.92 611.64M428.92 617.78L430.42 618.29L431.92 618.78L433.42 619.22L434.92 619.58L436.42 619.84L437.92 619.98L439.42 619.99L440.92 619.87L442.42 619.64L443.92 619.3L445.42 618.87L446.92 618.39L448.42 617.88L449.92 617.39L451.42 616.93L452.92 616.54M428.92 622.68L430.42 623.19L431.92 623.68L433.42 624.12L434.92 624.48L436.42 624.74L437.92 624.88L439.42 624.89L440.92 624.77L442.42 624.54L443.92 624.2L445.42 623.77L446.92 623.29L448.42 622.78L449.92 622.29L451.42 621.83L452.92 621.44M428.92 627.58L430.42 628.09L431.92 628.58L433.42 629.02L434.92 629.38L436.42 629.64L437.92 629.78L439.42 629.79L440.92 629.67L442.42 629.44L443.92 629.1L445.42 628.67L446.92 628.19L448.42 627.68L449.92 627.19L451.42 626.73L452.92 626.34M428.92 632.48L430.42 632.99L431.92 633.48L433.42 633.92L434.92 634.28L436.42 634.54L437.92 634.68L439.42 634.69L440.92 634.57L442.42 634.34L443.92 634L445.42 633.57L446.92 633.09L448.42 632.58L449.92 632.09L451.42 631.63L452.92 631.24M428.92 637.38L430.42 637.89L431.92 638.38L433.42 638.82L434.92 639.18L436.42 639.44L437.92 639.58L439.42 639.59L440.92 639.47L442.42 639.24L443.92 638.9L445.42 638.47L446.92 637.99L448.42 637.48L449.92 636.99L451.42 636.53L452.92 636.14M428.92 642.28L430.42 642.79L431.92 643.28L433.42 643.72L434.92 644.08L436.42 644.34L437.92 644.48L439.42 644.49L440.92 644.37L442.42 644.14L443.92 643.8L445.42 643.37L446.92 642.89L448.42 642.38L449.92 641.89L451.42 641.43L452.92 641.04M428.92 647.18L430.42 647.69L431.92 648.18L433.42 648.62L434.92 648.98L436.42 649.24L437.92 649.38L439.42 649.39L440.92 649.27L442.42 649.04L443.92 648.7L445.42 648.27L446.92 647.79L448.42 647.28L449.92 646.79L451.42 646.33L452.92 645.94M428.92 652.08L430.42 652.59L431.92 653.08L433.42 653.52L434.92 653.88L436.42 654.14L437.92 654.28L439.42 654.29L440.92 654.17L442.42 653.94L443.92 653.6L445.42 653.17L446.92 652.69L448.42 652.18L449.92 651.69L451.42 651.23L452.92 650.84M428.92 656.98L430.42 657.49L431.92 657.98L433.42 658.42L434.92 658.78L436.42 659.04L437.92 659.18L439.42 659.19L440.92 659.07L442.42 658.84L443.92 658.5L445.42 658.07L446.92 657.59L448.42 657.08L449.92 656.59L451.42 656.13L452.92 655.74M428.92 661.88L430.42 662.39L431.92 662.88L433.42 663.32L434.92 663.68L436.42 663.94L437.92 664.08L439.42 664.09L440.92 663.97L442.42 663.74L443.92 663.4L445.42 662.97L446.92 662.49L448.42 661.98L449.92 661.49L451.42 661.03L452.92 660.64" fill="none" stroke="#000" stroke-width="1.25"/></g>
<rect x="449.44" y="407.2" width="18.52" height="247.4" fill="#fff"/>
<g clip-path="url(#c30)"><path d="M447.44 402.62L448.94 402.11L450.44 401.62L451.94 401.18L453.44 400.82L454.94 400.56L456.44 400.42L457.94 400.41L459.44 400.53L460.94 400.76L462.44 401.1L463.94 401.53L465.44 402.01L466.94 402.52L468.44 403.02L469.94 403.47L471.44 403.86M447.44 407.52L448.94 407.01L450.44 406.52L451.94 406.08L453.44 405.72L454.94 405.46L456.44 405.32L457.94 405.31L459.44 405.43L460.94 405.66L462.44 406L463.94 406.43L465.44 406.91L466.94 407.42L468.44 407.92L469.94 408.37L471.44 408.76M447.44 412.42L448.94 411.91L450.44 411.42L451.94 410.98L453.44 410.62L454.94 410.36L456.44 410.22L457.94 410.21L459.44 410.33L460.94 410.56L462.44 410.9L463.94 411.33L465.44 411.81L466.94 412.32L468.44 412.82L469.94 413.27L471.44 413.66M447.44 417.32L448.94 416.81L450.44 416.32L451.94 415.88L453.44 415.52L454.94 415.26L456.44 415.12L457.94 415.11L459.44 415.23L460.94 415.46L462.44 415.8L463.94 416.23L465.44 416.71L466.94 417.22L468.44 417.72L469.94 418.17L471.44 418.56M447.44 422.22L448.94 421.71L450.44 421.22L451.94 420.78L453.44 420.42L454.94 420.16L456.44 420.02L457.94 420.01L459.44 420.13L460.94 420.36L462.44 420.7L463.94 421.13L465.44 421.61L466.94 422.12L468.44 422.62L469.94 423.07L471.44 423.46M447.44 427.12L448.94 426.61L450.44 426.12L451.94 425.68L453.44 425.32L454.94 425.06L456.44 424.92L457.94 424.91L459.44 425.03L460.94 425.26L462.44 425.6L463.94 426.03L465.44 426.51L466.94 427.02L468.44 427.52L469.94 427.97L471.44 428.36M447.44 432.02L448.94 431.51L450.44 431.02L451.94 430.58L453.44 430.22L454.94 429.96L456.44 429.82L457.94 429.81L459.44 429.93L460.94 430.16L462.44 430.5L463.94 430.93L465.44 431.41L466.94 431.92L468.44 432.42L469.94 432.87L471.44 433.26M447.44 436.92L448.94 436.41L450.44 435.92L451.94 435.48L453.44 435.12L454.94 434.86L456.44 434.72L457.94 434.71L459.44 434.83L460.94 435.06L462.44 435.4L463.94 435.83L465.44 436.31L466.94 436.82L468.44 437.32L469.94 437.77L471.44 438.16M447.44 441.82L448.94 441.31L450.44 440.82L451.94 440.38L453.44 440.02L454.94 439.76L456.44 439.62L457.94 439.61L459.44 439.73L460.94 439.96L462.44 440.3L463.94 440.73L465.44 441.21L466.94 441.72L468.44 442.22L469.94 442.67L471.44 443.06M447.44 446.72L448.94 446.21L450.44 445.72L451.94 445.28L453.44 444.92L454.94 444.66L456.44 444.52L457.94 444.51L459.44 444.63L460.94 444.86L462.44 445.2L463.94 445.63L465.44 446.11L466.94 446.62L468.44 447.12L469.94 447.57L471.44 447.96M447.44 451.62L448.94 451.11L450.44 450.62L451.94 450.18L453.44 449.82L454.94 449.56L456.44 449.42L457.94 449.41L459.44 449.53L460.94 449.76L462.44 450.1L463.94 450.53L465.44 451.01L466.94 451.52L468.44 452.02L469.94 452.47L471.44 452.86M447.44 456.52L448.94 456.01L450.44 455.52L451.94 455.08L453.44 454.72L454.94 454.46L456.44 454.32L457.94 454.31L459.44 454.43L460.94 454.66L462.44 455L463.94 455.43L465.44 455.91L466.94 456.42L468.44 456.92L469.94 457.37L471.44 457.76M447.44 461.42L448.94 460.91L450.44 460.42L451.94 459.98L453.44 459.62L454.94 459.36L456.44 459.22L457.94 459.21L459.44 459.33L460.94 459.56L462.44 459.9L463.94 460.33L465.44 460.81L466.94 461.32L468.44 461.82L469.94 462.27L471.44 462.66M447.44 466.32L448.94 465.81L450.44 465.32L451.94 464.88L453.44 464.52L454.94 464.26L456.44 464.12L457.94 464.11L459.44 464.23L460.94 464.46L462.44 464.8L463.94 465.23L465.44 465.71L466.94 466.22L468.44 466.72L469.94 467.17L471.44 467.56M447.44 471.22L448.94 470.71L450.44 470.22L451.94 469.78L453.44 469.42L454.94 469.16L456.44 469.02L457.94 469.01L459.44 469.13L460.94 469.36L462.44 469.7L463.94 470.13L465.44 470.61L466.94 471.12L468.44 471.62L469.94 472.07L471.44 472.46M447.44 476.12L448.94 475.61L450.44 475.12L451.94 474.68L453.44 474.32L454.94 474.06L456.44 473.92L457.94 473.91L459.44 474.03L460.94 474.26L462.44 474.6L463.94 475.03L465.44 475.51L466.94 476.02L468.44 476.52L469.94 476.97L471.44 477.36M447.44 481.02L448.94 480.51L450.44 480.02L451.94 479.58L453.44 479.22L454.94 478.96L456.44 478.82L457.94 478.81L459.44 478.93L460.94 479.16L462.44 479.5L463.94 479.93L465.44 480.41L466.94 480.92L468.44 481.42L469.94 481.87L471.44 482.26M447.44 485.92L448.94 485.41L450.44 484.92L451.94 484.48L453.44 484.12L454.94 483.86L456.44 483.72L457.94 483.71L459.44 483.83L460.94 484.06L462.44 484.4L463.94 484.83L465.44 485.31L466.94 485.82L468.44 486.32L469.94 486.77L471.44 487.16M447.44 490.82L448.94 490.31L450.44 489.82L451.94 489.38L453.44 489.02L454.94 488.76L456.44 488.62L457.94 488.61L459.44 488.73L460.94 488.96L462.44 489.3L463.94 489.73L465.44 490.21L466.94 490.72L468.44 491.22L469.94 491.67L471.44 492.06M447.44 495.72L448.94 495.21L450.44 494.72L451.94 494.28L453.44 493.92L454.94 493.66L456.44 493.52L457.94 493.51L459.44 493.63L460.94 493.86L462.44 494.2L463.94 494.63L465.44 495.11L466.94 495.62L468.44 496.12L469.94 496.57L471.44 496.96M447.44 500.62L448.94 500.11L450.44 499.62L451.94 499.18L453.44 498.82L454.94 498.56L456.44 498.42L457.94 498.41L459.44 498.53L460.94 498.76L462.44 499.1L463.94 499.53L465.44 500.01L466.94 500.52L468.44 501.02L469.94 501.47L471.44 501.86M447.44 505.52L448.94 505.01L450.44 504.52L451.94 504.08L453.44 503.72L454.94 503.46L456.44 503.32L457.94 503.31L459.44 503.43L460.94 503.66L462.44 504L463.94 504.43L465.44 504.91L466.94 505.42L468.44 505.92L469.94 506.37L471.44 506.76M447.44 510.42L448.94 509.91L450.44 509.42L451.94 508.98L453.44 508.62L454.94 508.36L456.44 508.22L457.94 508.21L459.44 508.33L460.94 508.56L462.44 508.9L463.94 509.33L465.44 509.81L466.94 510.32L468.44 510.82L469.94 511.27L471.44 511.66M447.44 515.32L448.94 514.81L450.44 514.32L451.94 513.88L453.44 513.52L454.94 513.26L456.44 513.12L457.94 513.11L459.44 513.23L460.94 513.46L462.44 513.8L463.94 514.23L465.44 514.71L466.94 515.22L468.44 515.72L469.94 516.17L471.44 516.56M447.44 520.22L448.94 519.71L450.44 519.22L451.94 518.78L453.44 518.42L454.94 518.16L456.44 518.02L457.94 518.01L459.44 518.13L460.94 518.36L462.44 518.7L463.94 519.13L465.44 519.61L466.94 520.12L468.44 520.62L469.94 521.07L471.44 521.46M447.44 525.12L448.94 524.61L450.44 524.12L451.94 523.68L453.44 523.32L454.94 523.06L456.44 522.92L457.94 522.91L459.44 523.03L460.94 523.26L462.44 523.6L463.94 524.03L465.44 524.51L466.94 525.02L468.44 525.52L469.94 525.97L471.44 526.36M447.44 530.02L448.94 529.51L450.44 529.02L451.94 528.58L453.44 528.22L454.94 527.96L456.44 527.82L457.94 527.81L459.44 527.93L460.94 528.16L462.44 528.5L463.94 528.93L465.44 529.41L466.94 529.92L468.44 530.42L469.94 530.87L471.44 531.26M447.44 534.92L448.94 534.41L450.44 533.92L451.94 533.48L453.44 533.12L454.94 532.86L456.44 532.72L457.94 532.71L459.44 532.83L460.94 533.06L462.44 533.4L463.94 533.83L465.44 534.31L466.94 534.82L468.44 535.32L469.94 535.77L471.44 536.16M447.44 539.82L448.94 539.31L450.44 538.82L451.94 538.38L453.44 538.02L454.94 537.76L456.44 537.62L457.94 537.61L459.44 537.73L460.94 537.96L462.44 538.3L463.94 538.73L465.44 539.21L466.94 539.72L468.44 540.22L469.94 540.67L471.44 541.06M447.44 544.72L448.94 544.21L450.44 543.72L451.94 543.28L453.44 542.92L454.94 542.66L456.44 542.52L457.94 542.51L459.44 542.63L460.94 542.86L462.44 543.2L463.94 543.63L465.44 544.11L466.94 544.62L468.44 545.12L469.94 545.57L471.44 545.96M447.44 549.62L448.94 549.11L450.44 548.62L451.94 548.18L453.44 547.82L454.94 547.56L456.44 547.42L457.94 547.41L459.44 547.53L460.94 547.76L462.44 548.1L463.94 548.53L465.44 549.01L466.94 549.52L468.44 550.02L469.94 550.47L471.44 550.86M447.44 554.52L448.94 554.01L450.44 553.52L451.94 553.08L453.44 552.72L454.94 552.46L456.44 552.32L457.94 552.31L459.44 552.43L460.94 552.66L462.44 553L463.94 553.43L465.44 553.91L466.94 554.42L468.44 554.92L469.94 555.37L471.44 555.76M447.44 559.42L448.94 558.91L450.44 558.42L451.94 557.98L453.44 557.62L454.94 557.36L456.44 557.22L457.94 557.21L459.44 557.33L460.94 557.56L462.44 557.9L463.94 558.33L465.44 558.81L466.94 559.32L468.44 559.82L469.94 560.27L471.44 560.66M447.44 564.32L448.94 563.81L450.44 563.32L451.94 562.88L453.44 562.52L454.94 562.26L456.44 562.12L457.94 562.11L459.44 562.23L460.94 562.46L462.44 562.8L463.94 563.23L465.44 563.71L466.94 564.22L468.44 564.72L469.94 565.17L471.44 565.56M447.44 569.22L448.94 568.71L450.44 568.22L451.94 567.78L453.44 567.42L454.94 567.16L456.44 567.02L457.94 567.01L459.44 567.13L460.94 567.36L462.44 567.7L463.94 568.13L465.44 568.61L466.94 569.12L468.44 569.62L469.94 570.07L471.44 570.46M447.44 574.12L448.94 573.61L450.44 573.12L451.94 572.68L453.44 572.32L454.94 572.06L456.44 571.92L457.94 571.91L459.44 572.03L460.94 572.26L462.44 572.6L463.94 573.03L465.44 573.51L466.94 574.02L468.44 574.52L469.94 574.97L471.44 575.36M447.44 579.02L448.94 578.51L450.44 578.02L451.94 577.58L453.44 577.22L454.94 576.96L456.44 576.82L457.94 576.81L459.44 576.93L460.94 577.16L462.44 577.5L463.94 577.93L465.44 578.41L466.94 578.92L468.44 579.42L469.94 579.87L471.44 580.26M447.44 583.92L448.94 583.41L450.44 582.92L451.94 582.48L453.44 582.12L454.94 581.86L456.44 581.72L457.94 581.71L459.44 581.83L460.94 582.06L462.44 582.4L463.94 582.83L465.44 583.31L466.94 583.82L468.44 584.32L469.94 584.77L471.44 585.16M447.44 588.82L448.94 588.31L450.44 587.82L451.94 587.38L453.44 587.02L454.94 586.76L456.44 586.62L457.94 586.61L459.44 586.73L460.94 586.96L462.44 587.3L463.94 587.73L465.44 588.21L466.94 588.72L468.44 589.22L469.94 589.67L471.44 590.06M447.44 593.72L448.94 593.21L450.44 592.72L451.94 592.28L453.44 591.92L454.94 591.66L456.44 591.52L457.94 591.51L459.44 591.63L460.94 591.86L462.44 592.2L463.94 592.63L465.44 593.11L466.94 593.62L468.44 594.12L469.94 594.57L471.44 594.96M447.44 598.62L448.94 598.11L450.44 597.62L451.94 597.18L453.44 596.82L454.94 596.56L456.44 596.42L457.94 596.41L459.44 596.53L460.94 596.76L462.44 597.1L463.94 597.53L465.44 598.01L466.94 598.52L468.44 599.02L469.94 599.47L471.44 599.86M447.44 603.52L448.94 603.01L450.44 602.52L451.94 602.08L453.44 601.72L454.94 601.46L456.44 601.32L457.94 601.31L459.44 601.43L460.94 601.66L462.44 602L463.94 602.43L465.44 602.91L466.94 603.42L468.44 603.92L469.94 604.37L471.44 604.76M447.44 608.42L448.94 607.91L450.44 607.42L451.94 606.98L453.44 606.62L454.94 606.36L456.44 606.22L457.94 606.21L459.44 606.33L460.94 606.56L462.44 606.9L463.94 607.33L465.44 607.81L466.94 608.32L468.44 608.82L469.94 609.27L471.44 609.66M447.44 613.32L448.94 612.81L450.44 612.32L451.94 611.88L453.44 611.52L454.94 611.26L456.44 611.12L457.94 611.11L459.44 611.23L460.94 611.46L462.44 611.8L463.94 612.23L465.44 612.71L466.94 613.22L468.44 613.72L469.94 614.17L471.44 614.56M447.44 618.22L448.94 617.71L450.44 617.22L451.94 616.78L453.44 616.42L454.94 616.16L456.44 616.02L457.94 616.01L459.44 616.13L460.94 616.36L462.44 616.7L463.94 617.13L465.44 617.61L466.94 618.12L468.44 618.62L469.94 619.07L471.44 619.46M447.44 623.12L448.94 622.61L450.44 622.12L451.94 621.68L453.44 621.32L454.94 621.06L456.44 620.92L457.94 620.91L459.44 621.03L460.94 621.26L462.44 621.6L463.94 622.03L465.44 622.51L466.94 623.02L468.44 623.52L469.94 623.97L471.44 624.36M447.44 628.02L448.94 627.51L450.44 627.02L451.94 626.58L453.44 626.22L454.94 625.96L456.44 625.82L457.94 625.81L459.44 625.93L460.94 626.16L462.44 626.5L463.94 626.93L465.44 627.41L466.94 627.92L468.44 628.42L469.94 628.87L471.44 629.26M447.44 632.92L448.94 632.41L450.44 631.92L451.94 631.48L453.44 631.12L454.94 630.86L456.44 630.72L457.94 630.71L459.44 630.83L460.94 631.06L462.44 631.4L463.94 631.83L465.44 632.31L466.94 632.82L468.44 633.32L469.94 633.77L471.44 634.16M447.44 637.82L448.94 637.31L450.44 636.82L451.94 636.38L453.44 636.02L454.94 635.76L456.44 635.62L457.94 635.61L459.44 635.73L460.94 635.96L462.44 636.3L463.94 636.73L465.44 637.21L466.94 637.72L468.44 638.22L469.94 638.67L471.44 639.06M447.44 642.72L448.94 642.21L450.44 641.72L451.94 641.28L453.44 640.92L454.94 640.66L456.44 640.52L457.94 640.51L459.44 640.63L460.94 640.86L462.44 641.2L463.94 641.63L465.44 642.11L466.94 642.62L468.44 643.12L469.94 643.57L471.44 643.96M447.44 647.62L448.94 647.11L450.44 646.62L451.94 646.18L453.44 645.82L454.94 645.56L456.44 645.42L457.94 645.41L459.44 645.53L460.94 645.76L462.44 646.1L463.94 646.53L465.44 647.01L466.94 647.52L468.44 648.02L469.94 648.47L471.44 648.86M447.44 652.52L448.94 652.01L450.44 651.52L451.94 651.08L453.44 650.72L454.94 650.46L456.44 650.32L457.94 650.31L459.44 650.43L460.94 650.66L462.44 651L463.94 651.43L465.44 651.91L466.94 652.42L468.44 652.92L469.94 653.37L471.44 653.76M447.44 657.42L448.94 656.91L450.44 656.42L451.94 655.98L453.44 655.62L454.94 655.36L456.44 655.22L457.94 655.21L459.44 655.33L460.94 655.56L462.44 655.9L463.94 656.33L465.44 656.81L466.94 657.32L468.44 657.82L469.94 658.27L471.44 658.66M447.44 662.32L448.94 661.81L450.44 661.32L451.94 660.88L453.44 660.52L454.94 660.26L456.44 660.12L457.94 660.11L459.44 660.23L460.94 660.46L462.44 660.8L463.94 661.23L465.44 661.71L466.94 662.22L468.44 662.72L469.94 663.17L471.44 663.56" fill="none" stroke="#000" stroke-width="1.25"/></g>
<rect x="467.97" y="489.67" width="18.52" height="164.93" fill="#fff"/>
<g clip-path="url(#c31)"><path d="M465.97 480.59L467.47 481.09L468.97 481.58L470.47 482.02L471.97 482.38L473.47 482.64L474.97 482.78L476.47 482.79L477.97 482.67L479.47 482.44L480.97 482.1L482.47 481.67L483.97 481.19L485.47 480.68L486.97 480.18L488.47 479.72L489.97 479.33M465.97 485.49L467.47 485.99L468.97 486.48L470.47 486.92L471.97 487.28L473.47 487.54L474.97 487.68L476.47 487.69L477.97 487.57L479.47 487.34L480.97 487L482.47 486.57L483.97 486.09L485.47 485.58L486.97 485.08L488.47 484.62L489.97 484.23M465.97 490.39L467.47 490.89L468.97 491.38L470.47 491.82L471.97 492.18L473.47 492.44L474.97 492.58L476.47 492.59L477.97 492.47L479.47 492.24L480.97 491.9L482.47 491.47L483.97 490.99L485.47 490.48L486.97 489.98L488.47 489.52L489.97 489.13M465.97 495.29L467.47 495.79L468.97 496.28L470.47 496.72L471.97 497.08L473.47 497.34L474.97 497.48L476.47 497.49L477.97 497.37L479.47 497.14L480.97 496.8L482.47 496.37L483.97 495.89L485.47 495.38L486.97 494.88L488.47 494.42L489.97 494.03M465.97 500.19L467.47 500.69L468.97 501.18L470.47 501.62L471.97 501.98L473.47 502.24L474.97 502.38L476.47 502.39L477.97 502.27L479.47 502.04L480.97 501.7L482.47 501.27L483.97 500.79L485.47 500.28L486.97 499.78L488.47 499.32L489.97 498.93M465.97 505.09L467.47 505.59L468.97 506.08L470.47 506.52L471.97 506.88L473.47 507.14L474.97 507.28L476.47 507.29L477.97 507.17L479.47 506.94L480.97 506.6L482.47 506.17L483.97 505.69L485.47 505.18L486.97 504.68L488.47 504.22L489.97 503.83M465.97 509.99L467.47 510.49L468.97 510.98L470.47 511.42L471.97 511.78L473.47 512.04L474.97 512.18L476.47 512.19L477.97 512.07L479.47 511.84L480.97 511.5L482.47 511.07L483.97 510.59L485.47 510.08L486.97 509.58L488.47 509.12L489.97 508.73M465.97 514.89L467.47 515.39L468.97 515.88L470.47 516.32L471.97 516.68L473.47 516.94L474.97 517.08L476.47 517.09L477.97 516.97L479.47 516.74L480.97 516.4L482.47 515.97L483.97 515.49L485.47 514.98L486.97 514.48L488.47 514.02L489.97 513.63M465.97 519.79L467.47 520.29L468.97 520.78L470.47 521.22L471.97 521.58L473.47 521.84L474.97 521.98L476.47 521.99L477.97 521.87L479.47 521.64L480.97 521.3L482.47 520.87L483.97 520.39L485.47 519.88L486.97 519.38L488.47 518.92L489.97 518.53M465.97 524.69L467.47 525.19L468.97 525.68L470.47 526.12L471.97 526.48L473.47 526.74L474.97 526.88L476.47 526.89L477.97 526.77L479.47 526.54L480.97 526.2L482.47 525.77L483.97 525.29L485.47 524.78L486.97 524.28L488.47 523.82L489.97 523.43M465.97 529.59L467.47 530.09L468.97 530.58L470.47 531.02L471.97 531.38L473.47 531.64L474.97 531.78L476.47 531.79L477.97 531.67L479.47 531.44L480.97 531.1L482.47 530.67L483.97 530.19L485.47 529.68L486.97 529.18L488.47 528.72L489.97 528.33M465.97 534.49L467.47 534.99L468.97 535.48L470.47 535.92L471.97 536.28L473.47 536.54L474.97 536.68L476.47 536.69L477.97 536.57L479.47 536.34L480.97 536L482.47 535.57L483.97 535.09L485.47 534.58L486.97 534.08L488.47 533.62L489.97 533.23M465.97 539.39L467.47 539.89L468.97 540.38L470.47 540.82L471.97 541.18L473.47 541.44L474.97 541.58L476.47 541.59L477.97 541.47L479.47 541.24L480.97 540.9L482.47 540.47L483.97 539.99L485.47 539.48L486.97 538.98L488.47 538.52L489.97 538.13M465.97 544.29L467.47 544.79L468.97 545.28L470.47 545.72L471.97 546.08L473.47 546.34L474.97 546.48L476.47 546.49L477.97 546.37L479.47 546.14L480.97 545.8L482.47 545.37L483.97 544.89L485.47 544.38L486.97 543.88L488.47 543.42L489.97 543.03M465.97 549.19L467.47 549.69L468.97 550.18L470.47 550.62L471.97 550.98L473.47 551.24L474.97 551.38L476.47 551.39L477.97 551.27L479.47 551.04L480.97 550.7L482.47 550.27L483.97 549.79L485.47 549.28L486.97 548.78L488.47 548.32L489.97 547.93M465.97 554.09L467.47 554.59L468.97 555.08L470.47 555.52L471.97 555.88L473.47 556.14L474.97 556.28L476.47 556.29L477.97 556.17L479.47 555.94L480.97 555.6L482.47 555.17L483.97 554.69L485.47 554.18L486.97 553.68L488.47 553.22L489.97 552.83M465.97 558.99L467.47 559.49L468.97 559.98L470.47 560.42L471.97 560.78L473.47 561.04L474.97 561.18L476.47 561.19L477.97 561.07L479.47 560.84L480.97 560.5L482.47 560.07L483.97 559.59L485.47 559.08L486.97 558.58L488.47 558.12L489.97 557.73M465.97 563.89L467.47 564.39L468.97 564.88L470.47 565.32L471.97 565.68L473.47 565.94L474.97 566.08L476.47 566.09L477.97 565.97L479.47 565.74L480.97 565.4L482.47 564.97L483.97 564.49L485.47 563.98L486.97 563.48L488.47 563.02L489.97 562.63M465.97 568.79L467.47 569.29L468.97 569.78L470.47 570.22L471.97 570.58L473.47 570.84L474.97 570.98L476.47 570.99L477.97 570.87L479.47 570.64L480.97 570.3L482.47 569.87L483.97 569.39L485.47 568.88L486.97 568.38L488.47 567.92L489.97 567.53M465.97 573.69L467.47 574.19L468.97 574.68L470.47 575.12L471.97 575.48L473.47 575.74L474.97 575.88L476.47 575.89L477.97 575.77L479.47 575.54L480.97 575.2L482.47 574.77L483.97 574.29L485.47 573.78L486.97 573.28L488.47 572.82L489.97 572.43M465.97 578.59L467.47 579.09L468.97 579.58L470.47 580.02L471.97 580.38L473.47 580.64L474.97 580.78L476.47 580.79L477.97 580.67L479.47 580.44L480.97 580.1L482.47 579.67L483.97 579.19L485.47 578.68L486.97 578.18L488.47 577.72L489.97 577.33M465.97 583.49L467.47 583.99L468.97 584.48L470.47 584.92L471.97 585.28L473.47 585.54L474.97 585.68L476.47 585.69L477.97 585.57L479.47 585.34L480.97 585L482.47 584.57L483.97 584.09L485.47 583.58L486.97 583.08L488.47 582.62L489.97 582.23M465.97 588.39L467.47 588.89L468.97 589.38L470.47 589.82L471.97 590.18L473.47 590.44L474.97 590.58L476.47 590.59L477.97 590.47L479.47 590.24L480.97 589.9L482.47 589.47L483.97 588.99L485.47 588.48L486.97 587.98L488.47 587.52L489.97 587.13M465.97 593.29L467.47 593.79L468.97 594.28L470.47 594.72L471.97 595.08L473.47 595.34L474.97 595.48L476.47 595.49L477.97 595.37L479.47 595.14L480.97 594.8L482.47 594.37L483.97 593.89L485.47 593.38L486.97 592.88L488.47 592.42L489.97 592.03M465.97 598.19L467.47 598.69L468.97 599.18L470.47 599.62L471.97 599.98L473.47 600.24L474.97 600.38L476.47 600.39L477.97 600.27L479.47 600.04L480.97 599.7L482.47 599.27L483.97 598.79L485.47 598.28L486.97 597.78L488.47 597.32L489.97 596.93M465.97 603.09L467.47 603.59L468.97 604.08L470.47 604.52L471.97 604.88L473.47 605.14L474.97 605.28L476.47 605.29L477.97 605.17L479.47 604.94L480.97 604.6L482.47 604.17L483.97 603.69L485.47 603.18L486.97 602.68L488.47 602.22L489.97 601.83M465.97 607.99L467.47 608.49L468.97 608.98L470.47 609.42L471.97 609.78L473.47 610.04L474.97 610.18L476.47 610.19L477.97 610.07L479.47 609.84L480.97 609.5L482.47 609.07L483.97 608.59L485.47 608.08L486.97 607.58L488.47 607.12L489.97 606.73M465.97 612.89L467.47 613.39L468.97 613.88L470.47 614.32L471.97 614.68L473.47 614.94L474.97 615.08L476.47 615.09L477.97 614.97L479.47 614.74L480.97 614.4L482.47 613.97L483.97 613.49L485.47 612.98L486.97 612.48L488.47 612.02L489.97 611.63M465.97 617.79L467.47 618.29L468.97 618.78L470.47 619.22L471.97 619.58L473.47 619.84L474.97 619.98L476.47 619.99L477.97 619.87L479.47 619.64L480.97 619.3L482.47 618.87L483.97 618.39L485.47 617.88L486.97 617.38L488.47 616.92L489.97 616.53M465.97 622.69L467.47 623.19L468.97 623.68L470.47 624.12L471.97 624.48L473.47 624.74L474.97 624.88L476.47 624.89L477.97 624.77L479.47 624.54L480.97 624.2L482.47 623.77L483.97 623.29L485.47 622.78L486.97 622.28L488.47 621.82L489.97 621.43M465.97 627.59L467.47 628.09L468.97 628.58L470.47 629.02L471.97 629.38L473.47 629.64L474.97 629.78L476.47 629.79L477.97 629.67L479.47 629.44L480.97 629.1L482.47 628.67L483.97 628.19L485.47 627.68L486.97 627.18L488.47 626.72L489.97 626.33M465.97 632.49L467.47 632.99L468.97 633.48L470.47 633.92L471.97 634.28L473.47 634.54L474.97 634.68L476.47 634.69L477.97 634.57L479.47 634.34L480.97 634L482.47 633.57L483.97 633.09L485.47 632.58L486.97 632.08L488.47 631.62L489.97 631.23M465.97 637.39L467.47 637.89L468.97 638.38L470.47 638.82L471.97 639.18L473.47 639.44L474.97 639.58L476.47 639.59L477.97 639.47L479.47 639.24L480.97 638.9L482.47 638.47L483.97 637.99L485.47 637.48L486.97 636.98L488.47 636.52L489.97 636.13M465.97 642.29L467.47 642.79L468.97 643.28L470.47 643.72L471.97 644.08L473.47 644.34L474.97 644.48L476.47 644.49L477.97 644.37L479.47 644.14L480.97 643.8L482.47 643.37L483.97 642.89L485.47 642.38L486.97 641.88L488.47 641.42L489.97 641.03M465.97 647.19L467.47 647.69L468.97 648.18L470.47 648.62L471.97 648.98L473.47 649.24L474.97 649.38L476.47 649.39L477.97 649.27L479.47 649.04L480.97 648.7L482.47 648.27L483.97 647.79L485.47 647.28L486.97 646.78L488.47 646.32L489.97 645.93M465.97 652.09L467.47 652.59L468.97 653.08L470.47 653.52L471.97 653.88L473.47 654.14L474.97 654.28L476.47 654.29L477.97 654.17L479.47 653.94L480.97 653.6L482.47 653.17L483.97 652.69L485.47 652.18L486.97 651.68L488.47 651.22L489.97 650.83M465.97 656.99L467.47 657.49L468.97 657.98L470.47 658.42L471.97 658.78L473.47 659.04L474.97 659.18L476.47 659.19L477.97 659.07L479.47 658.84L480.97 658.5L482.47 658.07L483.97 657.59L485.47 657.08L486.97 656.58L488.47 656.12L489.97 655.73M465.97 661.89L467.47 662.39L468.97 662.88L470.47 663.32L471.97 663.68L473.47 663.94L474.97 664.08L476.47 664.09L477.97 663.97L479.47 663.74L480.97 663.4L482.47 662.97L483.97 662.49L485.47 661.98L486.97 661.48L488.47 661.02L489.97 660.63" fill="none" stroke="#000" stroke-width="1.25"/></g>
<rect x="486.49" y="572.13" width="18.52" height="82.47" fill="#fff"/>
<g clip-path="url(#c32)"><path d="M484.49 564.31L485.99 563.81L487.49 563.32L488.99 562.88L490.49 562.52L491.99 562.26L493.49 562.12L494.99 562.11L496.49 562.23L497.99 562.46L499.49 562.81L500.99 563.23L502.49 563.71L503.99 564.22L505.49 564.72L506.99 565.18L508.49 565.57M484.49 569.21L485.99 568.71L487.49 568.22L488.99 567.78L490.49 567.42L491.99 567.16L493.49 567.02L494.99 567.01L496.49 567.13L497.99 567.36L499.49 567.71L500.99 568.13L502.49 568.61L503.99 569.12L505.49 569.62L506.99 570.08L508.49 570.47M484.49 574.11L485.99 573.61L487.49 573.12L488.99 572.68L490.49 572.32L491.99 572.06L493.49 571.92L494.99 571.91L496.49 572.03L497.99 572.26L499.49 572.61L500.99 573.03L502.49 573.51L503.99 574.02L505.49 574.52L506.99 574.98L508.49 575.37M484.49 579.01L485.99 578.51L487.49 578.02L488.99 577.58L490.49 577.22L491.99 576.96L493.49 576.82L494.99 576.81L496.49 576.93L497.99 577.16L499.49 577.51L500.99 577.93L502.49 578.41L503.99 578.92L505.49 579.42L506.99 579.88L508.49 580.27M484.49 583.91L485.99 583.41L487.49 582.92L488.99 582.48L490.49 582.12L491.99 581.86L493.49 581.72L494.99 581.71L496.49 581.83L497.99 582.06L499.49 582.41L500.99 582.83L502.49 583.31L503.99 583.82L505.49 584.32L506.99 584.78L508.49 585.17M484.49 588.81L485.99 588.31L487.49 587.82L488.99 587.38L490.49 587.02L491.99 586.76L493.49 586.62L494.99 586.61L496.49 586.73L497.99 586.96L499.49 587.31L500.99 587.73L502.49 588.21L503.99 588.72L505.49 589.22L506.99 589.68L508.49 590.07M484.49 593.71L485.99 593.21L487.49 592.72L488.99 592.28L490.49 591.92L491.99 591.66L493.49 591.52L494.99 591.51L496.49 591.63L497.99 591.86L499.49 592.21L500.99 592.63L502.49 593.11L503.99 593.62L505.49 594.12L506.99 594.58L508.49 594.97M484.49 598.61L485.99 598.11L487.49 597.62L488.99 597.18L490.49 596.82L491.99 596.56L493.49 596.42L494.99 596.41L496.49 596.53L497.99 596.76L499.49 597.11L500.99 597.53L502.49 598.01L503.99 598.52L505.49 599.02L506.99 599.48L508.49 599.87M484.49 603.51L485.99 603.01L487.49 602.52L488.99 602.08L490.49 601.72L491.99 601.46L493.49 601.32L494.99 601.31L496.49 601.43L497.99 601.66L499.49 602.01L500.99 602.43L502.49 602.91L503.99 603.42L505.49 603.92L506.99 604.38L508.49 604.77M484.49 608.41L485.99 607.91L487.49 607.42L488.99 606.98L490.49 606.62L491.99 606.36L493.49 606.22L494.99 606.21L496.49 606.33L497.99 606.56L499.49 606.91L500.99 607.33L502.49 607.81L503.99 608.32L505.49 608.82L506.99 609.28L508.49 609.67M484.49 613.31L485.99 612.81L487.49 612.32L488.99 611.88L490.49 611.52L491.99 611.26L493.49 611.12L494.99 611.11L496.49 611.23L497.99 611.46L499.49 611.81L500.99 612.23L502.49 612.71L503.99 613.22L505.49 613.72L506.99 614.18L508.49 614.57M484.49 618.21L485.99 617.71L487.49 617.22L488.99 616.78L490.49 616.42L491.99 616.16L493.49 616.02L494.99 616.01L496.49 616.13L497.99 616.36L499.49 616.71L500.99 617.13L502.49 617.61L503.99 618.12L505.49 618.62L506.99 619.08L508.49 619.47M484.49 623.11L485.99 622.61L487.49 622.12L488.99 621.68L490.49 621.32L491.99 621.06L493.49 620.92L494.99 620.91L496.49 621.03L497.99 621.26L499.49 621.61L500.99 622.03L502.49 622.51L503.99 623.02L505.49 623.52L506.99 623.98L508.49 624.37M484.49 628.01L485.99 627.51L487.49 627.02L488.99 626.58L490.49 626.22L491.99 625.96L493.49 625.82L494.99 625.81L496.49 625.93L497.99 626.16L499.49 626.51L500.99 626.93L502.49 627.41L503.99 627.92L505.49 628.42L506.99 628.88L508.49 629.27M484.49 632.91L485.99 632.41L487.49 631.92L488.99 631.48L490.49 631.12L491.99 630.86L493.49 630.72L494.99 630.71L496.49 630.83L497.99 631.06L499.49 631.41L500.99 631.83L502.49 632.31L503.99 632.82L505.49 633.32L506.99 633.78L508.49 634.17M484.49 637.81L485.99 637.31L487.49 636.82L488.99 636.38L490.49 636.02L491.99 635.76L493.49 635.62L494.99 635.61L496.49 635.73L497.99 635.96L499.49 636.31L500.99 636.73L502.49 637.21L503.99 637.72L505.49 638.22L506.99 638.68L508.49 639.07M484.49 642.71L485.99 642.21L487.49 641.72L488.99 641.28L490.49 640.92L491.99 640.66L493.49 640.52L494.99 640.51L496.49 640.63L497.99 640.86L499.49 641.21L500.99 641.63L502.49 642.11L503.99 642.62L505.49 643.12L506.99 643.58L508.49 643.97M484.49 647.61L485.99 647.11L487.49 646.62L488.99 646.18L490.49 645.82L491.99 645.56L493.49 645.42L494.99 645.41L496.49 645.53L497.99 645.76L499.49 646.11L500.99 646.53L502.49 647.01L503.99 647.52L505.49 648.02L506.99 648.48L508.49 648.87M484.49 652.51L485.99 652.01L487.49 651.52L488.99 651.08L490.49 650.72L491.99 650.46L493.49 650.32L494.99 650.31L496.49 650.43L497.99 650.66L499.49 651.01L500.99 651.43L502.49 651.91L503.99 652.42L505.49 652.92L506.99 653.38L508.49 653.77M484.49 657.41L485.99 656.91L487.49 656.42L488.99 655.98L490.49 655.62L491.99 655.36L493.49 655.22L494.99 655.21L496.49 655.33L497.99 655.56L499.49 655.91L500.99 656.33L502.49 656.81L503.99 657.32L505.49 657.82L506.99 658.28L508.49 658.67M484.49 662.31L485.99 661.81L487.49 661.32L488.99 660.88L490.49 660.52L491.99 660.26L493.49 660.12L494.99 660.11L496.49 660.23L497.99 660.46L499.49 660.81L500.99 661.23L502.49 661.71L503.99 662.22L505.49 662.72L506.99 663.18L508.49 663.57" fill="none" stroke="#000" stroke-width="1.25"/></g>
<rect x="505.01" y="588.63" width="18.52" height="65.97" fill="#fff"/>
<g clip-path="url(#c33)"><path d="M503.01 583.49L504.51 583.99L506.01 584.48L507.51 584.92L509.01 585.28L510.51 585.54L512.01 585.68L513.51 585.69L515.01 585.57L516.51 585.34L518.01 584.99L519.51 584.57L521.01 584.09L522.51 583.58L524.01 583.08L525.51 582.62L527.01 582.23M503.01 588.39L504.51 588.89L506.01 589.38L507.51 589.82L509.01 590.18L510.51 590.44L512.01 590.58L513.51 590.59L515.01 590.47L516.51 590.24L518.01 589.89L519.51 589.47L521.01 588.99L522.51 588.48L524.01 587.98L525.51 587.52L527.01 587.13M503.01 593.29L504.51 593.79L506.01 594.28L507.51 594.72L509.01 595.08L510.51 595.34L512.01 595.48L513.51 595.49L515.01 595.37L516.51 595.14L518.01 594.79L519.51 594.37L521.01 593.89L522.51 593.38L524.01 592.88L525.51 592.42L527.01 592.03M503.01 598.19L504.51 598.69L506.01 599.18L507.51 599.62L509.01 599.98L510.51 600.24L512.01 600.38L513.51 600.39L515.01 600.27L516.51 600.04L518.01 599.69L519.51 599.27L521.01 598.79L522.51 598.28L524.01 597.78L525.51 597.32L527.01 596.93M503.01 603.09L504.51 603.59L506.01 604.08L507.51 604.52L509.01 604.88L510.51 605.14L512.01 605.28L513.51 605.29L515.01 605.17L516.51 604.94L518.01 604.59L519.51 604.17L521.01 603.69L522.51 603.18L524.01 602.68L525.51 602.22L527.01 601.83M503.01 607.99L504.51 608.49L506.01 608.98L507.51 609.42L509.01 609.78L510.51 610.04L512.01 610.18L513.51 610.19L515.01 610.07L516.51 609.84L518.01 609.49L519.51 609.07L521.01 608.59L522.51 608.08L524.01 607.58L525.51 607.12L527.01 606.73M503.01 612.89L504.51 613.39L506.01 613.88L507.51 614.32L509.01 614.68L510.51 614.94L512.01 615.08L513.51 615.09L515.01 614.97L516.51 614.74L518.01 614.39L519.51 613.97L521.01 613.49L522.51 612.98L524.01 612.48L525.51 612.02L527.01 611.63M503.01 617.79L504.51 618.29L506.01 618.78L507.51 619.22L509.01 619.58L510.51 619.84L512.01 619.98L513.51 619.99L515.01 619.87L516.51 619.64L518.01 619.29L519.51 618.87L521.01 618.39L522.51 617.88L524.01 617.38L525.51 616.92L527.01 616.53M503.01 622.69L504.51 623.19L506.01 623.68L507.51 624.12L509.01 624.48L510.51 624.74L512.01 624.88L513.51 624.89L515.01 624.77L516.51 624.54L518.01 624.19L519.51 623.77L521.01 623.29L522.51 622.78L524.01 622.28L525.51 621.82L527.01 621.43M503.01 627.59L504.51 628.09L506.01 628.58L507.51 629.02L509.01 629.38L510.51 629.64L512.01 629.78L513.51 629.79L515.01 629.67L516.51 629.44L518.01 629.09L519.51 628.67L521.01 628.19L522.51 627.68L524.01 627.18L525.51 626.72L527.01 626.33M503.01 632.49L504.51 632.99L506.01 633.48L507.51 633.92L509.01 634.28L510.51 634.54L512.01 634.68L513.51 634.69L515.01 634.57L516.51 634.34L518.01 633.99L519.51 633.57L521.01 633.09L522.51 632.58L524.01 632.08L525.51 631.62L527.01 631.23M503.01 637.39L504.51 637.89L506.01 638.38L507.51 638.82L509.01 639.18L510.51 639.44L512.01 639.58L513.51 639.59L515.01 639.47L516.51 639.24L518.01 638.89L519.51 638.47L521.01 637.99L522.51 637.48L524.01 636.98L525.51 636.52L527.01 636.13M503.01 642.29L504.51 642.79L506.01 643.28L507.51 643.72L509.01 644.08L510.51 644.34L512.01 644.48L513.51 644.49L515.01 644.37L516.51 644.14L518.01 643.79L519.51 643.37L521.01 642.89L522.51 642.38L524.01 641.88L525.51 641.42L527.01 641.03M503.01 647.19L504.51 647.69L506.01 648.18L507.51 648.62L509.01 648.98L510.51 649.24L512.01 649.38L513.51 649.39L515.01 649.27L516.51 649.04L518.01 648.69L519.51 648.27L521.01 647.79L522.51 647.28L524.01 646.78L525.51 646.32L527.01 645.93M503.01 652.09L504.51 652.59L506.01 653.08L507.51 653.52L509.01 653.88L510.51 654.14L512.01 654.28L513.51 654.29L515.01 654.17L516.51 653.94L518.01 653.59L519.51 653.17L521.01 652.69L522.51 652.18L524.01 651.68L525.51 651.22L527.01 650.83M503.01 656.99L504.51 657.49L506.01 657.98L507.51 658.42L509.01 658.78L510.51 659.04L512.01 659.18L513.51 659.19L515.01 659.07L516.51 658.84L518.01 658.49L519.51 658.07L521.01 657.59L522.51 657.08L524.01 656.58L525.51 656.12L527.01 655.73M503.01 661.89L504.51 662.39L506.01 662.88L507.51 663.32L509.01 663.68L510.51 663.94L512.01 664.08L513.51 664.09L515.01 663.97L516.51 663.74L518.01 663.39L519.51 662.97L521.01 662.49L522.51 661.98L524.01 661.48L525.51 661.02L527.01 660.63" fill="none" stroke="#000" stroke-width="1.25"/></g>
<rect x="523.53" y="638.11" width="18.52" height="16.49" fill="#fff"/>
<g clip-path="url(#c34)"><path d="M521.53 632.91L523.03 632.4L524.53 631.92L526.03 631.48L527.53 631.12L529.03 630.86L530.53 630.72L532.03 630.71L533.53 630.83L535.03 631.06L536.53 631.41L538.03 631.83L539.53 632.31L541.03 632.82L542.53 633.32L544.03 633.78L545.53 634.17M521.53 637.81L523.03 637.3L524.53 636.82L526.03 636.38L527.53 636.02L529.03 635.76L530.53 635.62L532.03 635.61L533.53 635.73L535.03 635.96L536.53 636.31L538.03 636.73L539.53 637.21L541.03 637.72L542.53 638.22L544.03 638.68L545.53 639.07M521.53 642.71L523.03 642.2L524.53 641.72L526.03 641.28L527.53 640.92L529.03 640.66L530.53 640.52L532.03 640.51L533.53 640.63L535.03 640.86L536.53 641.21L538.03 641.63L539.53 642.11L541.03 642.62L542.53 643.12L544.03 643.58L545.53 643.97M521.53 647.61L523.03 647.1L524.53 646.62L526.03 646.18L527.53 645.82L529.03 645.56L530.53 645.42L532.03 645.41L533.53 645.53L535.03 645.76L536.53 646.11L538.03 646.53L539.53 647.01L541.03 647.52L542.53 648.02L544.03 648.48L545.53 648.87M521.53 652.51L523.03 652L524.53 651.52L526.03 651.08L527.53 650.72L529.03 650.46L530.53 650.32L532.03 650.31L533.53 650.43L535.03 650.66L536.53 651.01L538.03 651.43L539.53 651.91L541.03 652.42L542.53 652.92L544.03 653.38L545.53 653.77M521.53 657.41L523.03 656.9L524.53 656.42L526.03 655.98L527.53 655.62L529.03 655.36L530.53 655.22L532.03 655.21L533.53 655.33L535.03 655.56L536.53 655.91L538.03 656.33L539.53 656.81L541.03 657.32L542.53 657.82L544.03 658.28L545.53 658.67M521.53 662.31L523.03 661.8L524.53 661.32L526.03 660.88L527.53 660.52L529.03 660.26L530.53 660.12L532.03 660.11L533.53 660.23L535.03 660.46L536.53 660.81L538.03 661.23L539.53 661.71L541.03 662.22L542.53 662.72L544.03 663.18L545.53 663.57" fill="none" stroke="#000" stroke-width="1.25"/></g>
<rect x="412.4" y="588.63" width="18.52" height="65.97" fill="none" stroke="#222" stroke-width="1.1"/>
<rect x="430.92" y="588.63" width="18.52" height="65.97" fill="none" stroke="#222" stroke-width="1.1"/>
<rect x="449.44" y="407.2" width="18.52" height="247.4" fill="none" stroke="#222" stroke-width="1.1"/>
<rect x="467.97" y="489.67" width="18.52" height="164.93" fill="none" stroke="#222" stroke-width="1.1"/>
<rect x="486.49" y="572.13" width="18.52" height="82.47" fill="none" stroke="#222" stroke-width="1.1"/>
<rect x="505.01" y="588.63" width="18.52" height="65.97" fill="none" stroke="#222" stroke-width="1.1"/>
<rect x="523.53" y="638.11" width="18.52" height="16.49" fill="none" stroke="#222" stroke-width="1.1"/>
<rect x="467.97" y="638.11" width="18.52" height="16.49" fill="rgba(181,181,181,0.76)" stroke="#4a4a4a" stroke-width="1"/>
<rect x="486.49" y="588.63" width="18.52" height="65.97" fill="rgba(181,181,181,0.76)" stroke="#4a4a4a" stroke-width="1"/>
<rect x="505.01" y="588.63" width="18.52" height="65.97" fill="rgba(181,181,181,0.76)" stroke="#4a4a4a" stroke-width="1"/>
<rect x="523.53" y="605.12" width="18.52" height="49.48" fill="rgba(181,181,181,0.76)" stroke="#4a4a4a" stroke-width="1"/>
<rect x="542.06" y="539.15" width="18.52" height="115.45" fill="rgba(181,181,181,0.76)" stroke="#4a4a4a" stroke-width="1"/>
<rect x="560.58" y="506.16" width="18.52" height="148.44" fill="rgba(181,181,181,0.76)" stroke="#4a4a4a" stroke-width="1"/>
<rect x="579.1" y="605.12" width="18.52" height="49.48" fill="rgba(181,181,181,0.76)" stroke="#4a4a4a" stroke-width="1"/>
<rect x="597.62" y="588.63" width="18.52" height="65.97" fill="rgba(181,181,181,0.76)" stroke="#4a4a4a" stroke-width="1"/>
<rect x="616.14" y="621.61" width="18.52" height="32.99" fill="rgba(181,181,181,0.76)" stroke="#4a4a4a" stroke-width="1"/>
<rect x="634.67" y="638.11" width="18.52" height="16.49" fill="rgba(181,181,181,0.76)" stroke="#4a4a4a" stroke-width="1"/>
<rect x="653.19" y="638.11" width="18.52" height="16.49" fill="rgba(181,181,181,0.76)" stroke="#4a4a4a" stroke-width="1"/>
<rect x="671.71" y="621.61" width="18.52" height="32.99" fill="rgba(181,181,181,0.76)" stroke="#4a4a4a" stroke-width="1"/>
<rect x="690.23" y="638.11" width="18.52" height="16.49" fill="rgba(181,181,181,0.76)" stroke="#4a4a4a" stroke-width="1"/>
<rect x="412.4" y="407.2" width="333.4" height="247.4" fill="none" stroke="#4a4a4a" stroke-width="1.05"/>
<line x1="412.4" y1="572.13" x2="427.4" y2="572.13" stroke="#333" stroke-width="1.1"/>
<text transform="translate(410.9 582.03) scale(1 1.17)" x="0" y="0" font-size="19.8" text-anchor="end">5</text>
<line x1="412.4" y1="489.67" x2="427.4" y2="489.67" stroke="#333" stroke-width="1.1"/>
<text transform="translate(410.9 499.07) scale(1 1.17)" x="0" y="0" font-size="19.8" text-anchor="end">10</text>
<line x1="412.4" y1="407.2" x2="427.4" y2="407.2" stroke="#333" stroke-width="1.1"/>
<text transform="translate(410.9 416.1) scale(1 1.17)" x="0" y="0" font-size="19.8" text-anchor="end">15</text>
<path d="M412.4 633.51L413.79 631.2L415.18 628.68L416.57 625.95L417.96 622.99L419.35 619.81L420.73 616.38L422.12 612.71L423.51 608.8L424.9 604.64L426.29 600.23L427.68 595.57L429.07 590.68L430.46 585.55L431.85 580.2L433.24 574.64L434.63 568.88L436.02 562.95L437.4 556.86L438.79 550.64L440.18 544.31L441.57 537.9L442.96 531.44L444.35 524.97L445.74 518.52L447.13 512.13L448.52 505.84L449.91 499.68L451.3 493.7L452.69 487.94L454.07 482.43L455.46 477.21L456.85 472.32L458.24 467.8L459.63 463.69L461.02 460L462.41 456.78L463.8 454.05L465.19 451.82L466.58 450.12L467.97 448.96L469.36 448.35L470.75 448.3L472.13 448.8L473.52 449.85L474.91 451.44L476.3 453.56L477.69 456.2L479.08 459.32L480.47 462.92L481.86 466.95L483.25 471.39L484.64 476.2L486.03 481.36L487.41 486.81L488.8 492.53L490.19 498.47L491.58 504.6L492.97 510.87L494.36 517.24L495.75 523.68L497.14 530.15L498.53 536.61L499.92 543.03L501.31 549.38L502.7 555.63L504.08 561.74L505.47 567.71L506.86 573.5L508.25 579.11L509.64 584.5L511.03 589.67L512.42 594.61L513.81 599.32L515.2 603.77L516.59 607.99L517.98 611.95L519.37 615.67L520.75 619.14L522.14 622.38L523.53 625.38L524.92 628.15L526.31 630.71L527.7 633.06L529.09 635.22L530.48 637.18L531.87 638.97L533.26 640.59L534.65 642.05L536.04 643.37L537.42 644.56L538.81 645.62L540.2 646.57L541.59 647.41L542.98 648.16L544.37 648.82L545.76 649.4L547.15 649.91L548.54 650.36L549.93 650.75L551.32 651.09L552.71 651.39L554.1 651.65L555.48 651.87L556.87 652.06L558.26 652.22L559.65 652.36L561.04 652.48L562.43 652.58L563.82 652.67L565.21 652.74L566.6 652.8L567.99 652.85L569.38 652.9L570.76 652.93L572.15 652.96L573.54 652.99L574.93 653.01L576.32 653.03L577.71 653.04L579.1 653.05L580.49 653.06L581.88 653.07L583.27 653.07L584.66 653.08L586.05 653.08L587.43 653.09L588.82 653.09L590.21 653.09L591.6 653.09L592.99 653.09L594.38 653.1L595.77 653.1L597.16 653.1L598.55 653.1L599.94 653.1L601.33 653.1L602.72 653.1L604.1 653.1L605.49 653.1L606.88 653.1L608.27 653.1L609.66 653.1L611.05 653.1L612.44 653.1L613.83 653.1L615.22 653.1L616.61 653.1L618 653.1L619.39 653.1L620.77 653.1L622.16 653.1L623.55 653.1L624.94 653.1L626.33 653.1L627.72 653.1L629.11 653.1L630.5 653.1L631.89 653.1L633.28 653.1L634.67 653.1L636.06 653.1L637.44 653.1L638.83 653.1L640.22 653.1L641.61 653.1L643 653.1L644.39 653.1L645.78 653.1L647.17 653.1L648.56 653.1L649.95 653.1L651.34 653.1L652.73 653.1L654.11 653.1L655.5 653.1L656.89 653.1L658.28 653.1L659.67 653.1L661.06 653.1L662.45 653.1L663.84 653.1L665.23 653.1L666.62 653.1L668.01 653.1L669.4 653.1L670.78 653.1L672.17 653.1L673.56 653.1L674.95 653.1L676.34 653.1L677.73 653.1L679.12 653.1L680.51 653.1L681.9 653.1L683.29 653.1L684.68 653.1L686.07 653.1L687.45 653.1L688.84 653.1L690.23 653.1L691.62 653.1L693.01 653.1L694.4 653.1L695.79 653.1L697.18 653.1L698.57 653.1L699.96 653.1L701.35 653.1L702.74 653.1L704.12 653.1L705.51 653.1L706.9 653.1L708.29 653.1L709.68 653.1L711.07 653.1L712.46 653.1L713.85 653.1L715.24 653.1L716.63 653.1L718.02 653.1L719.41 653.1L720.79 653.1L722.18 653.1L723.57 653.1L724.96 653.1L726.35 653.1L727.74 653.1L729.13 653.1L730.52 653.1L731.91 653.1L733.3 653.1L734.69 653.1L736.08 653.1L737.46 653.1L738.85 653.1L740.24 653.1L741.63 653.1L743.02 653.1L744.41 653.1L745.8 653.1" fill="none" stroke="#000" stroke-width="2.4" stroke-dasharray="13 4.5"/>
<path d="M412.4 653.16L413.79 653.05L415.18 652.93L416.57 652.8L417.96 652.66L419.35 652.52L420.73 652.36L422.12 652.2L423.51 652.02L424.9 651.83L426.29 651.64L427.68 651.43L429.07 651.21L430.46 650.97L431.85 650.72L433.24 650.46L434.63 650.18L436.02 649.89L437.4 649.58L438.79 649.25L440.18 648.91L441.57 648.55L442.96 648.17L444.35 647.77L445.74 647.35L447.13 646.91L448.52 646.45L449.91 645.97L451.3 645.47L452.69 644.94L454.07 644.39L455.46 643.82L456.85 643.22L458.24 642.59L459.63 641.94L461.02 641.27L462.41 640.57L463.8 639.84L465.19 639.08L466.58 638.29L467.97 637.48L469.36 636.64L470.75 635.77L472.13 634.87L473.52 633.95L474.91 632.99L476.3 632.01L477.69 630.99L479.08 629.95L480.47 628.88L481.86 627.78L483.25 626.66L484.64 625.5L486.03 624.32L487.41 623.11L488.8 621.88L490.19 620.62L491.58 619.33L492.97 618.02L494.36 616.69L495.75 615.34L497.14 613.97L498.53 612.57L499.92 611.16L501.31 609.73L502.7 608.29L504.08 606.83L505.47 605.36L506.86 603.88L508.25 602.39L509.64 600.89L511.03 599.39L512.42 597.89L513.81 596.38L515.2 594.87L516.59 593.36L517.98 591.86L519.37 590.37L520.75 588.88L522.14 587.41L523.53 585.95L524.92 584.51L526.31 583.08L527.7 581.67L529.09 580.29L530.48 578.93L531.87 577.6L533.26 576.3L534.65 575.03L536.04 573.8L537.42 572.6L538.81 571.44L540.2 570.32L541.59 569.25L542.98 568.22L544.37 567.23L545.76 566.3L547.15 565.41L548.54 564.58L549.93 563.8L551.32 563.08L552.71 562.41L554.1 561.81L555.48 561.26L556.87 560.77L558.26 560.34L559.65 559.98L561.04 559.67L562.43 559.43L563.82 559.26L565.21 559.15L566.6 559.1L567.99 559.12L569.38 559.21L570.76 559.36L572.15 559.57L573.54 559.85L574.93 560.19L576.32 560.59L577.71 561.05L579.1 561.58L580.49 562.16L581.88 562.81L583.27 563.51L584.66 564.26L586.05 565.08L587.43 565.94L588.82 566.85L590.21 567.82L591.6 568.83L592.99 569.89L594.38 570.99L595.77 572.13L597.16 573.32L598.55 574.54L599.94 575.79L601.33 577.08L602.72 578.4L604.1 579.75L605.49 581.12L606.88 582.52L608.27 583.93L609.66 585.37L611.05 586.83L612.44 588.29L613.83 589.77L615.22 591.26L616.61 592.76L618 594.27L619.39 595.77L620.77 597.28L622.16 598.79L623.55 600.29L624.94 601.79L626.33 603.29L627.72 604.77L629.11 606.25L630.5 607.71L631.89 609.16L633.28 610.59L634.67 612.01L636.06 613.41L637.44 614.79L638.83 616.15L640.22 617.49L641.61 618.81L643 620.11L644.39 621.38L645.78 622.62L647.17 623.84L648.56 625.03L649.95 626.2L651.34 627.33L652.73 628.44L654.11 629.53L655.5 630.58L656.89 631.61L658.28 632.6L659.67 633.57L661.06 634.51L662.45 635.42L663.84 636.3L665.23 637.15L666.62 637.97L668.01 638.77L669.4 639.54L670.78 640.28L672.17 640.99L673.56 641.68L674.95 642.34L676.34 642.97L677.73 643.58L679.12 644.16L680.51 644.72L681.9 645.26L683.29 645.77L684.68 646.26L686.07 646.73L687.45 647.18L688.84 647.61L690.23 648.01L691.62 648.4L693.01 648.77L694.4 649.12L695.79 649.45L697.18 649.77L698.57 650.07L699.96 650.35L701.35 650.62L702.74 650.87L704.12 651.11L705.51 651.34L706.9 651.55L708.29 651.76L709.68 651.95L711.07 652.13L712.46 652.3L713.85 652.45L715.24 652.6L716.63 652.74L718.02 652.88L719.41 653L720.79 653.11L722.18 653.22L723.57 653.32L724.96 653.42L726.35 653.51L727.74 653.59L729.13 653.66L730.52 653.74L731.91 653.8L733.3 653.86L734.69 653.92L736.08 653.98L737.46 654.03L738.85 654.07L740.24 654.11L741.63 654.15L743.02 654.19L744.41 654.22L745.8 654.26" fill="none" stroke="#000" stroke-width="2.4"/>
<text x="411.9" y="675.1" font-size="22.3" text-anchor="middle" fill="#000">,000</text>
<text x="467.47" y="675.1" font-size="22.3" text-anchor="middle" fill="#000">,005</text>
<text x="523.03" y="675.1" font-size="22.3" text-anchor="middle" fill="#000">,010</text>
<text x="578.6" y="675.1" font-size="22.3" text-anchor="middle" fill="#000">,015</text>
<text x="634.17" y="675.1" font-size="22.3" text-anchor="middle" fill="#000">,020</text>
<text x="689.73" y="675.1" font-size="22.3" text-anchor="middle" fill="#000">,025</text>
<text x="745.3" y="675.1" font-size="22.3" text-anchor="middle" fill="#000">,030</text>
</svg>
</body></html>
